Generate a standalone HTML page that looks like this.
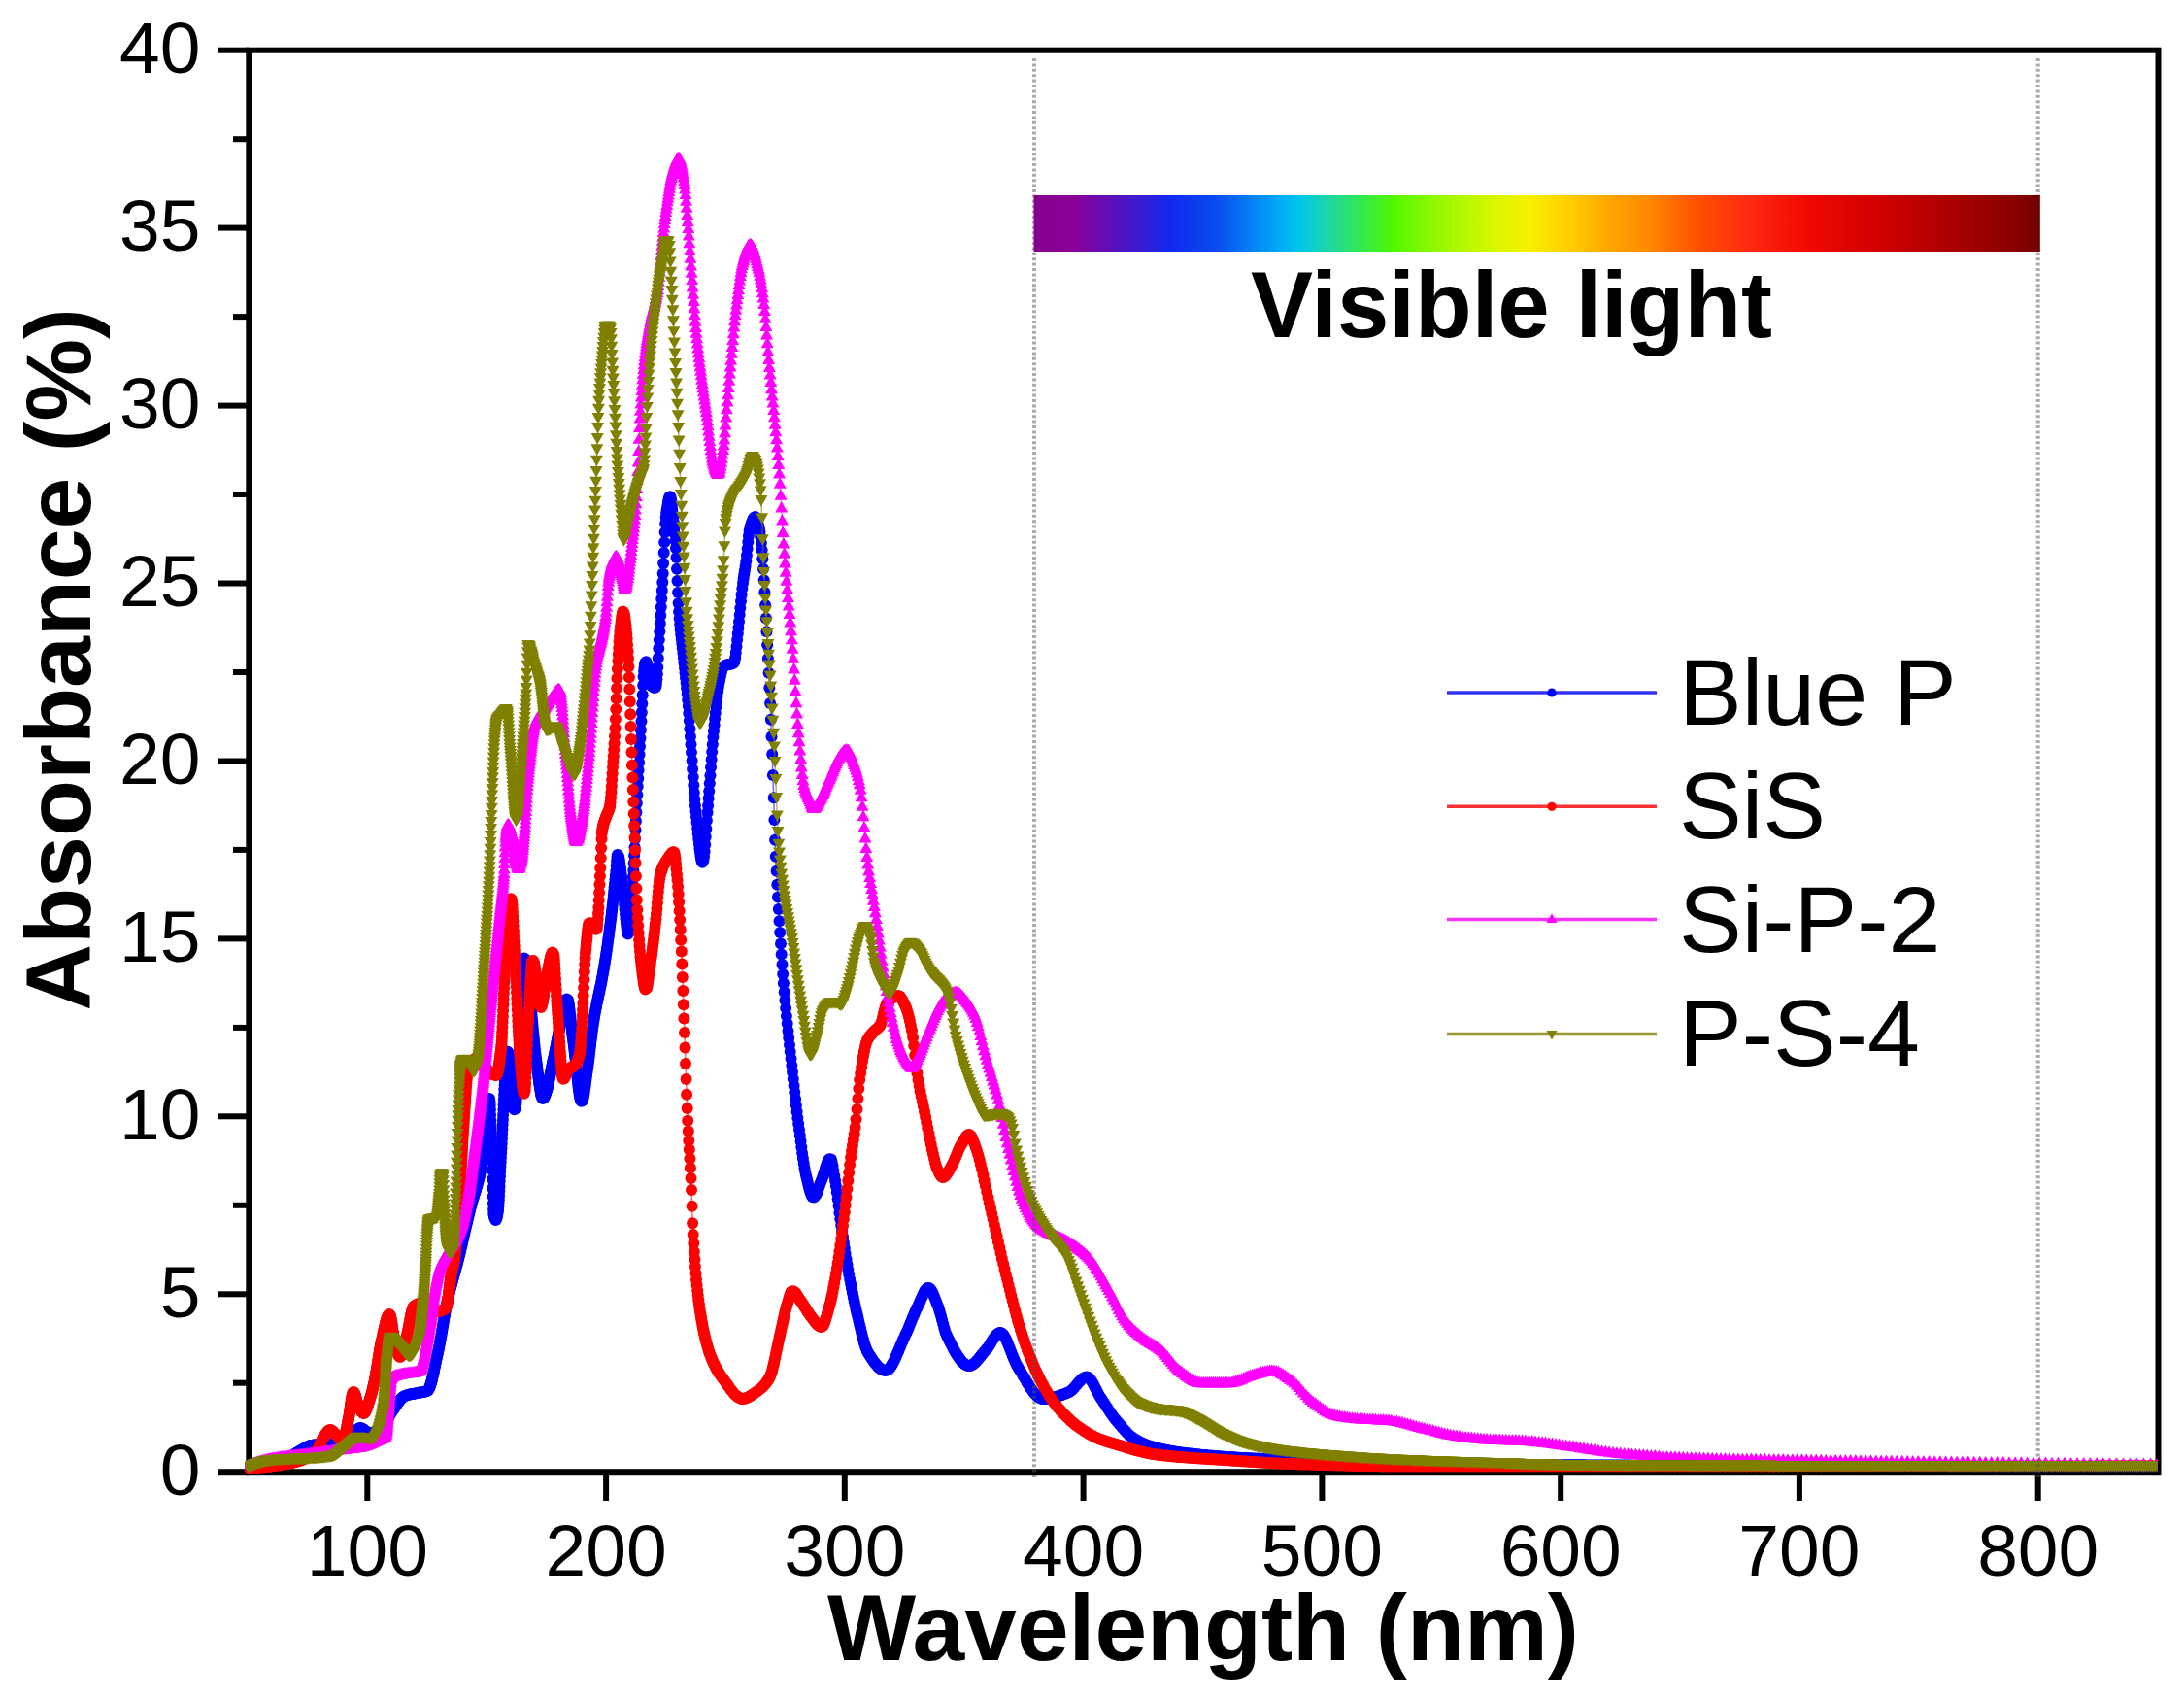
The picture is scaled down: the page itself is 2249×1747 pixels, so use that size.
<!DOCTYPE html>
<html lang="en"><head><meta charset="utf-8"><title>Absorbance spectra</title>
<style>html,body{margin:0;padding:0;background:#fff}body{width:2249px;height:1747px;overflow:hidden}svg{display:block}text{font-family:"Liberation Sans",Arial,Helvetica,sans-serif;fill:#000}.tk{font-size:75px}.b{font-weight:bold;font-size:96px}.lg{font-size:97px}</style></head><body>
<svg width="2249" height="1747" viewBox="0 0 2249 1747">
<defs>
<linearGradient id="spec" x1="0" y1="0" x2="1" y2="0">
<stop offset="0%" stop-color="#86008c"/>
<stop offset="4%" stop-color="#8a0098"/>
<stop offset="9.7%" stop-color="#4418c8"/>
<stop offset="13.6%" stop-color="#1028f0"/>
<stop offset="18.4%" stop-color="#0850f0"/>
<stop offset="24.2%" stop-color="#00a8f8"/>
<stop offset="26.6%" stop-color="#00c8e8"/>
<stop offset="29.5%" stop-color="#20d8a0"/>
<stop offset="32.4%" stop-color="#30e850"/>
<stop offset="35.7%" stop-color="#50f800"/>
<stop offset="41%" stop-color="#a0f800"/>
<stop offset="45.8%" stop-color="#d8f800"/>
<stop offset="49.2%" stop-color="#f8f000"/>
<stop offset="53%" stop-color="#ffd000"/>
<stop offset="57.9%" stop-color="#ffa000"/>
<stop offset="61.2%" stop-color="#ff8800"/>
<stop offset="66%" stop-color="#ff5000"/>
<stop offset="71.4%" stop-color="#ff2810"/>
<stop offset="77%" stop-color="#f00800"/>
<stop offset="84.4%" stop-color="#d00000"/>
<stop offset="91.6%" stop-color="#a80000"/>
<stop offset="97.8%" stop-color="#880000"/>
<stop offset="100%" stop-color="#700000"/>
</linearGradient>
<marker id="m0" markerUnits="userSpaceOnUse" markerWidth="14" markerHeight="14" refX="7" refY="7"><circle cx="7" cy="7" r="6.0" fill="#0000ff"/></marker>
<marker id="m1" markerUnits="userSpaceOnUse" markerWidth="14" markerHeight="14" refX="7" refY="7"><circle cx="7" cy="7" r="6.0" fill="#ff0000"/></marker>
<marker id="m2" markerUnits="userSpaceOnUse" markerWidth="16" markerHeight="16" refX="8" refY="8"><path d="M8 1.7 L14.5 13.2 L1.5 13.2 Z" fill="#ff00ff"/></marker>
<marker id="m3" markerUnits="userSpaceOnUse" markerWidth="16" markerHeight="16" refX="8" refY="8"><path d="M8 14.3 L14.5 2.8 L1.5 2.8 Z" fill="#808000"/></marker>
<clipPath id="cp"><rect x="252.4" y="40" width="1969.2" height="1478.4"/></clipPath>
</defs>
<rect width="2249" height="1747" fill="#fff"/>
<g stroke="#000" stroke-width="6" fill="none" stroke-linecap="butt">
<rect x="256.3" y="51.7" width="1966.2" height="1463.5"/>
<line x1="225" y1="1515.2" x2="256" y2="1515.2"/>
<line x1="240" y1="1423.7" x2="256" y2="1423.7"/>
<line x1="225" y1="1332.3" x2="256" y2="1332.3"/>
<line x1="240" y1="1240.8" x2="256" y2="1240.8"/>
<line x1="225" y1="1149.3" x2="256" y2="1149.3"/>
<line x1="240" y1="1057.9" x2="256" y2="1057.9"/>
<line x1="225" y1="966.4" x2="256" y2="966.4"/>
<line x1="240" y1="874.9" x2="256" y2="874.9"/>
<line x1="225" y1="783.5" x2="256" y2="783.5"/>
<line x1="240" y1="692.0" x2="256" y2="692.0"/>
<line x1="225" y1="600.5" x2="256" y2="600.5"/>
<line x1="240" y1="509.0" x2="256" y2="509.0"/>
<line x1="225" y1="417.6" x2="256" y2="417.6"/>
<line x1="240" y1="326.1" x2="256" y2="326.1"/>
<line x1="225" y1="234.6" x2="256" y2="234.6"/>
<line x1="240" y1="143.2" x2="256" y2="143.2"/>
<line x1="225" y1="51.7" x2="256" y2="51.7"/>
<line x1="378.3" y1="1515.2" x2="378.3" y2="1545"/>
<line x1="624.1" y1="1515.2" x2="624.1" y2="1545"/>
<line x1="869.8" y1="1515.2" x2="869.8" y2="1545"/>
<line x1="1115.6" y1="1515.2" x2="1115.6" y2="1545"/>
<line x1="1361.4" y1="1515.2" x2="1361.4" y2="1545"/>
<line x1="1607.2" y1="1515.2" x2="1607.2" y2="1545"/>
<line x1="1852.9" y1="1515.2" x2="1852.9" y2="1545"/>
<line x1="2098.7" y1="1515.2" x2="2098.7" y2="1545"/>
</g>
<g class="tk" text-anchor="end">
<text x="206.5" y="1538.7">0</text>
<text x="206.5" y="1355.8">5</text>
<text x="206.5" y="1172.8">10</text>
<text x="206.5" y="989.9">15</text>
<text x="206.5" y="807.0">20</text>
<text x="206.5" y="624.0">25</text>
<text x="206.5" y="441.1">30</text>
<text x="206.5" y="258.1">35</text>
<text x="206.5" y="75.2">40</text>
</g>
<g class="tk" text-anchor="middle">
<text x="378.3" y="1622">100</text>
<text x="624.1" y="1622">200</text>
<text x="869.8" y="1622">300</text>
<text x="1115.6" y="1622">400</text>
<text x="1361.4" y="1622">500</text>
<text x="1607.2" y="1622">600</text>
<text x="1852.9" y="1622">700</text>
<text x="2098.7" y="1622">800</text>
</g>
<text class="b" text-anchor="middle" style="font-size:96.5px" x="1239" y="1709">Wavelength (nm)</text>
<text class="b" text-anchor="middle" style="font-size:95px" transform="translate(93 679) rotate(-90)">Absorbance (%)</text>
<g clip-path="url(#cp)" fill="none" stroke-width="1.6" stroke-opacity="0.55" stroke-linejoin="round">
<polyline stroke="#0000ff" marker-start="url(#m0)" marker-mid="url(#m0)" marker-end="url(#m0)" points="256.0,1511.0 257.1,1511.0 258.2,1511.0 259.3,1510.9 260.4,1510.8 261.6,1510.7 262.7,1510.6 263.8,1510.5 264.9,1510.4 266.0,1510.2 267.1,1510.0 268.2,1509.8 269.3,1509.6 270.3,1509.4 271.4,1509.2 272.5,1508.9 273.6,1508.7 274.7,1508.4 275.8,1508.1 276.9,1507.9 277.9,1507.6 279.0,1507.3 280.1,1507.0 281.2,1506.7 282.2,1506.4 283.3,1506.1 284.4,1505.7 285.5,1505.4 286.5,1505.1 287.6,1504.7 288.7,1504.4 289.8,1504.1 290.8,1503.7 291.8,1503.3 292.9,1502.9 293.9,1502.4 294.9,1501.9 295.9,1501.4 296.9,1500.9 297.9,1500.3 298.8,1499.8 299.8,1499.2 300.7,1498.6 301.7,1498.0 302.6,1497.4 303.6,1496.8 304.5,1496.2 305.5,1495.6 306.5,1495.0 307.4,1494.4 308.4,1493.9 309.4,1493.3 310.3,1492.8 311.3,1492.3 312.3,1491.7 313.2,1491.1 314.2,1490.5 315.2,1489.9 316.2,1489.4 317.2,1488.9 318.3,1488.5 319.3,1488.1 320.4,1487.9 321.5,1487.8 322.7,1487.6 323.8,1487.5 324.9,1487.4 326.0,1487.3 327.2,1487.2 328.3,1487.1 329.4,1487.0 330.6,1487.0 331.7,1486.9 332.8,1486.8 333.9,1486.8 335.0,1486.7 336.2,1486.7 337.4,1486.7 338.5,1486.6 339.6,1486.6 340.7,1486.5 341.9,1486.5 343.0,1486.5 344.2,1486.4 345.3,1486.4 346.4,1486.3 347.5,1486.2 348.7,1486.1 349.8,1486.0 350.9,1485.8 352.0,1485.4 353.1,1484.9 354.0,1484.2 354.9,1483.5 355.8,1482.8 356.6,1482.0 357.5,1481.2 358.3,1480.4 359.1,1479.5 360.0,1478.6 360.8,1477.7 361.7,1476.9 362.6,1476.1 363.4,1475.3 364.3,1474.5 365.2,1473.9 366.1,1473.1 367.0,1472.3 367.9,1471.6 368.8,1470.9 369.8,1470.3 370.9,1470.0 372.0,1470.2 373.1,1470.7 374.0,1471.3 375.0,1472.1 375.9,1472.8 376.7,1473.5 377.7,1474.2 378.7,1474.7 379.8,1475.0 380.9,1475.0 382.0,1474.9 383.2,1474.7 384.3,1474.5 385.5,1474.2 386.5,1473.9 387.6,1473.5 388.7,1473.1 389.7,1472.7 390.8,1472.1 391.8,1471.6 392.8,1471.1 393.7,1470.4 394.5,1469.5 395.2,1468.5 395.7,1467.5 396.3,1466.4 396.9,1465.2 397.4,1464.0 398.0,1462.8 398.6,1461.6 399.2,1460.5 399.8,1459.4 400.4,1458.4 400.9,1457.4 401.5,1456.4 402.1,1455.4 402.7,1454.5 403.3,1453.5 403.9,1452.6 404.7,1451.5 405.4,1450.5 406.1,1449.4 406.9,1448.3 407.6,1447.3 408.4,1446.2 409.1,1445.1 409.9,1444.1 410.6,1443.0 411.4,1442.0 412.2,1441.1 412.9,1440.2 413.7,1439.4 414.6,1438.5 415.5,1437.8 416.6,1437.2 417.6,1436.8 418.7,1436.4 419.8,1436.1 420.9,1435.8 422.0,1435.5 423.1,1435.3 424.2,1435.1 425.3,1434.9 426.4,1434.7 427.6,1434.5 428.7,1434.3 429.9,1434.0 431.1,1433.8 432.2,1433.6 433.4,1433.4 434.6,1433.3 435.8,1433.1 437.0,1432.8 438.2,1432.6 439.3,1432.2 440.4,1431.8 441.2,1430.9 441.8,1429.7 442.3,1428.7 442.8,1427.4 443.2,1426.0 443.7,1424.5 444.0,1423.3 444.3,1422.2 444.7,1420.9 445.0,1419.7 445.3,1418.3 445.6,1417.0 445.9,1415.6 446.3,1414.1 446.6,1412.7 446.9,1411.2 447.2,1409.6 447.6,1408.1 447.9,1406.5 448.2,1405.0 448.5,1403.4 448.9,1401.8 449.2,1400.3 449.5,1398.7 449.9,1397.2 450.2,1395.6 450.5,1394.1 450.9,1392.7 451.2,1391.2 451.5,1389.7 451.9,1388.1 452.2,1386.4 452.5,1384.7 452.9,1383.0 453.2,1381.2 453.5,1379.3 453.9,1377.5 454.2,1375.6 454.6,1373.6 454.9,1371.6 455.2,1369.7 455.6,1367.7 455.9,1365.6 456.3,1363.6 456.6,1361.6 457.0,1359.6 457.3,1357.6 457.6,1355.6 458.0,1353.6 458.3,1351.6 458.7,1349.7 459.0,1347.8 459.4,1345.9 459.7,1344.1 460.1,1342.3 460.4,1340.6 460.8,1338.9 461.1,1337.3 461.5,1335.8 461.9,1334.2 462.2,1332.7 462.6,1331.3 462.9,1329.8 463.3,1328.4 463.6,1326.9 464.0,1325.5 464.4,1324.2 464.7,1322.8 465.1,1321.4 465.5,1320.1 465.8,1318.8 466.2,1317.4 466.6,1316.1 466.9,1314.8 467.3,1313.5 467.7,1312.1 468.0,1310.8 468.4,1309.5 468.8,1308.2 469.1,1306.8 469.5,1305.5 469.9,1304.1 470.3,1302.7 470.6,1301.3 471.0,1299.9 471.4,1298.4 471.8,1297.0 472.1,1295.5 472.5,1293.9 472.9,1292.4 473.3,1290.9 473.7,1289.3 474.0,1287.7 474.4,1286.1 474.8,1284.5 475.2,1282.8 475.6,1281.2 476.0,1279.5 476.3,1277.9 476.7,1276.2 477.1,1274.5 477.5,1272.8 477.9,1271.1 478.3,1269.5 478.7,1267.8 479.1,1266.1 479.5,1264.4 479.9,1262.7 480.3,1261.0 480.7,1259.3 481.1,1257.6 481.5,1255.9 481.9,1254.2 482.3,1252.6 482.7,1250.9 483.1,1249.3 483.5,1247.7 483.9,1246.1 484.3,1244.5 484.7,1242.9 485.1,1241.3 485.5,1239.8 485.9,1238.3 486.3,1236.8 486.7,1235.4 487.2,1234.0 487.6,1232.7 488.0,1231.4 488.4,1230.1 488.8,1228.8 489.2,1227.5 489.6,1226.2 490.1,1224.8 490.5,1223.4 490.9,1222.0 491.3,1220.5 491.7,1219.0 492.2,1217.3 492.6,1215.7 493.0,1214.0 493.5,1212.3 493.9,1210.5 494.3,1208.7 494.7,1206.8 495.2,1204.8 495.6,1202.7 495.8,1201.6 496.0,1200.5 496.3,1199.3 496.5,1198.1 496.7,1196.9 496.9,1195.6 497.1,1194.2 497.3,1192.8 497.6,1191.2 497.8,1189.6 498.0,1187.9 498.2,1186.0 498.4,1184.2 498.7,1182.2 498.9,1180.2 499.1,1178.2 499.3,1176.1 499.5,1174.0 499.8,1171.8 500.0,1169.7 500.2,1167.6 500.4,1165.4 500.6,1163.3 500.9,1161.2 501.1,1159.1 501.3,1156.8 501.5,1154.2 501.8,1151.5 502.0,1148.6 502.2,1145.7 502.4,1142.9 502.7,1140.2 502.9,1137.7 503.1,1135.5 503.3,1133.6 503.6,1132.2 504.0,1131.0 504.5,1134.3 504.7,1138.0 504.9,1142.6 505.1,1148.0 505.4,1153.8 505.6,1159.8 505.8,1165.8 506.1,1171.5 506.3,1178.2 506.5,1186.2 506.7,1195.1 507.0,1204.6 507.2,1214.1 507.4,1223.3 507.7,1231.8 507.9,1239.1 508.1,1245.0 508.4,1248.8 508.6,1250.5 508.8,1251.6 509.3,1253.6 509.8,1255.1 510.5,1256.0 511.2,1255.0 511.6,1253.2 511.9,1252.1 512.1,1250.8 512.3,1249.4 512.6,1247.9 512.8,1246.3 513.1,1244.6 513.3,1242.3 513.5,1239.1 513.8,1235.3 514.0,1231.0 514.2,1226.3 514.5,1221.3 514.7,1216.1 515.0,1210.9 515.2,1205.9 515.4,1201.0 515.7,1196.4 515.9,1191.8 516.2,1187.0 516.4,1182.2 516.7,1177.3 516.9,1172.4 517.1,1167.5 517.4,1162.5 517.6,1157.6 517.9,1152.7 518.1,1147.8 518.4,1142.6 518.6,1137.3 518.8,1131.9 519.1,1126.7 519.3,1121.6 519.6,1116.9 519.8,1112.7 520.1,1109.0 520.3,1105.4 520.6,1101.7 520.8,1098.1 521.1,1094.6 521.3,1091.3 521.6,1088.4 521.8,1085.9 522.1,1083.9 522.3,1082.6 523.3,1083.2 523.8,1085.2 524.1,1086.6 524.3,1088.0 524.6,1089.7 524.8,1091.4 525.1,1093.2 525.3,1095.0 525.6,1096.9 525.8,1098.7 526.1,1100.6 526.3,1102.8 526.6,1105.5 526.8,1108.6 527.1,1112.0 527.4,1115.6 527.6,1119.3 527.9,1123.0 528.1,1126.7 528.4,1130.3 528.6,1133.5 528.9,1136.5 529.1,1139.0 529.4,1141.0 529.7,1142.3 530.7,1141.0 531.0,1139.3 531.2,1137.3 531.5,1134.8 531.7,1132.0 532.0,1128.9 532.3,1125.5 532.5,1121.9 532.8,1118.2 533.1,1114.3 533.3,1110.3 533.6,1106.3 533.9,1102.3 534.1,1098.2 534.4,1093.3 534.6,1087.7 534.9,1081.4 535.2,1074.7 535.4,1067.7 535.7,1060.6 536.0,1053.5 536.2,1046.6 536.5,1040.2 536.8,1034.3 537.0,1029.2 537.3,1024.1 537.6,1018.8 537.9,1013.5 538.1,1008.2 538.4,1003.1 538.7,998.5 538.9,994.3 539.2,990.8 539.5,988.2 539.7,986.5 540.8,987.6 541.1,988.8 541.4,990.2 541.7,991.8 541.9,993.7 542.2,995.7 542.5,997.9 542.8,1000.2 543.0,1002.6 543.3,1005.1 543.6,1007.6 543.9,1010.2 544.1,1012.7 544.4,1015.2 544.7,1017.6 545.0,1019.9 545.3,1022.2 545.5,1024.6 545.8,1027.2 546.1,1029.9 546.4,1032.7 546.7,1035.5 546.9,1038.5 547.2,1041.5 547.5,1044.6 547.8,1047.7 548.1,1050.8 548.4,1054.0 548.6,1057.2 548.9,1060.3 549.2,1063.5 549.5,1066.6 549.8,1069.6 550.1,1072.6 550.4,1075.5 550.6,1078.3 550.9,1081.0 551.2,1083.6 551.5,1086.1 551.8,1088.4 552.1,1090.6 552.4,1092.8 552.7,1095.0 553.0,1097.3 553.2,1099.6 553.5,1101.9 553.8,1104.3 554.1,1106.6 554.4,1108.9 554.7,1111.1 555.0,1113.3 555.3,1115.4 555.6,1117.5 555.9,1119.5 556.2,1121.3 556.5,1123.1 556.8,1124.7 557.1,1126.1 557.3,1127.4 557.6,1128.5 558.2,1130.2 559.1,1131.0 560.3,1130.0 560.9,1128.9 561.5,1127.4 562.1,1125.7 562.7,1123.6 563.0,1122.5 563.4,1121.3 563.7,1120.1 564.0,1118.8 564.3,1117.5 564.6,1116.1 564.9,1114.7 565.2,1113.2 565.5,1111.8 565.8,1110.3 566.1,1108.8 566.4,1107.2 566.7,1105.7 567.0,1104.1 567.3,1102.6 567.7,1101.0 568.0,1099.5 568.3,1098.0 568.6,1096.5 568.9,1095.0 569.2,1093.5 569.5,1092.1 569.8,1090.7 570.2,1089.3 570.5,1087.9 570.8,1086.5 571.1,1085.0 571.4,1083.4 571.7,1081.8 572.1,1080.2 572.4,1078.6 572.7,1076.9 573.0,1075.2 573.3,1073.5 573.6,1071.8 574.0,1070.1 574.3,1068.4 574.6,1066.7 574.9,1065.0 575.2,1063.3 575.6,1061.6 575.9,1059.9 576.2,1058.3 576.5,1056.7 576.9,1055.1 577.2,1053.6 577.5,1052.1 577.8,1050.7 578.2,1049.3 578.5,1047.9 578.8,1046.4 579.1,1044.8 579.5,1043.2 579.8,1041.6 580.1,1040.0 580.4,1038.4 580.8,1036.9 581.1,1035.4 581.4,1034.0 581.8,1032.7 582.1,1031.5 582.8,1029.6 583.4,1028.4 584.8,1029.3 585.1,1030.6 585.4,1032.2 585.8,1034.3 586.1,1036.6 586.5,1039.1 586.8,1041.9 587.1,1044.9 587.5,1047.9 587.8,1051.1 588.1,1054.2 588.5,1057.4 588.8,1060.5 589.2,1063.5 589.5,1066.3 589.9,1069.0 590.2,1071.5 590.5,1074.1 590.9,1076.9 591.2,1079.8 591.6,1082.8 591.9,1085.9 592.3,1089.1 592.6,1092.4 593.0,1095.7 593.3,1099.0 593.7,1102.3 594.0,1105.5 594.4,1108.7 594.7,1111.8 595.1,1114.8 595.4,1117.7 595.8,1120.4 596.1,1122.9 596.5,1125.3 596.8,1127.4 597.2,1129.3 597.5,1130.9 597.9,1132.2 598.6,1133.8 599.7,1133.3 600.4,1131.0 600.7,1129.4 601.1,1127.5 601.5,1125.4 601.8,1123.1 602.2,1120.6 602.6,1118.0 602.9,1115.3 603.3,1112.5 603.6,1109.8 604.0,1107.0 604.4,1104.3 604.7,1101.8 605.1,1099.3 605.5,1096.8 605.8,1094.1 606.2,1091.2 606.6,1088.3 606.9,1085.3 607.3,1082.2 607.7,1079.0 608.1,1075.9 608.4,1072.7 608.8,1069.6 609.2,1066.5 609.5,1063.5 609.9,1060.6 610.3,1057.8 610.7,1055.2 611.0,1052.7 611.4,1050.4 611.8,1048.1 612.2,1045.9 612.5,1043.8 612.9,1041.7 613.3,1039.7 613.7,1037.7 614.1,1035.8 614.4,1033.9 614.8,1032.0 615.2,1030.2 615.6,1028.4 616.0,1026.6 616.4,1024.8 616.7,1023.0 617.1,1021.2 617.5,1019.4 617.9,1017.6 618.3,1015.7 618.7,1013.9 619.1,1012.0 619.5,1010.0 619.8,1008.1 620.2,1006.0 620.6,1003.9 621.0,1001.8 621.4,999.5 621.8,997.2 622.2,994.8 622.6,992.4 623.0,989.9 623.4,987.3 623.8,984.7 624.2,982.1 624.6,979.4 625.0,976.7 625.4,973.9 625.8,971.0 626.2,968.1 626.6,965.2 627.0,962.2 627.4,959.1 627.8,956.0 628.2,952.9 628.6,949.7 629.0,946.5 629.4,943.2 629.8,939.8 630.2,936.4 630.6,932.9 631.0,929.2 631.4,925.4 631.8,921.5 632.2,917.5 632.6,913.5 633.0,909.4 633.5,905.3 633.9,901.3 634.3,896.9 634.7,891.5 635.1,886.2 635.5,882.0 635.9,880.0 636.8,881.2 637.2,882.8 637.6,884.8 638.0,887.4 638.4,890.2 638.9,893.3 639.3,896.6 639.7,900.0 640.1,903.4 640.6,906.7 641.0,909.9 641.4,913.2 641.8,917.0 642.3,921.4 642.7,926.1 643.1,931.0 643.5,936.0 644.0,940.9 644.4,945.6 644.8,950.0 645.3,953.9 645.7,957.2 646.1,959.8 646.6,961.4 647.9,959.0 648.3,955.4 648.7,950.8 649.2,945.2 649.6,938.8 650.0,932.0 650.5,924.7 650.9,917.3 651.4,910.0 651.8,902.9 652.3,896.1 652.7,888.7 653.1,880.7 653.6,872.3 654.0,863.5 654.5,854.5 654.9,845.3 655.4,836.2 655.8,827.1 656.3,818.2 656.7,809.6 657.2,801.3 657.6,793.1 658.1,785.0 658.5,776.8 659.0,768.6 659.4,760.1 659.9,751.4 660.4,742.4 660.8,733.4 661.3,724.4 661.7,715.4 662.2,705.4 662.6,696.5 663.1,691.0 663.6,687.3 664.0,684.1 664.5,681.9 665.4,681.3 666.4,683.7 666.8,685.4 667.3,687.3 667.8,689.2 668.2,690.9 668.7,693.0 669.2,695.5 669.7,698.1 670.1,700.6 670.6,703.0 671.1,705.0 671.6,706.4 672.5,707.3 674.0,707.9 675.4,707.1 675.9,703.9 676.4,699.2 676.9,693.7 677.3,687.1 677.8,677.6 678.3,667.6 678.8,658.8 679.3,650.3 679.8,641.8 680.3,633.4 680.8,625.1 681.3,616.6 681.8,608.1 682.3,599.4 682.7,590.4 683.2,580.1 683.7,569.1 684.2,558.2 684.7,547.9 685.2,539.1 685.7,532.4 686.2,528.1 686.7,524.5 687.3,521.0 687.8,518.0 688.3,515.4 688.8,513.3 689.3,511.8 690.3,511.3 690.8,513.1 691.3,516.2 691.8,520.1 692.3,524.5 692.9,528.9 693.4,533.2 693.9,538.1 694.4,543.7 694.9,549.8 695.5,556.5 696.0,564.2 696.5,574.1 697.0,585.7 697.5,597.9 698.1,610.0 698.6,620.9 699.1,629.8 699.6,636.7 700.2,642.7 700.7,648.2 701.2,653.2 701.8,658.0 702.3,662.6 702.8,667.2 703.4,671.9 703.9,677.0 704.4,682.3 705.0,687.5 705.5,692.6 706.0,697.8 706.6,703.1 707.1,708.6 707.7,714.3 708.2,720.4 708.8,726.9 709.3,734.2 709.8,742.1 710.4,750.2 710.9,758.2 711.5,766.2 712.0,774.5 712.6,783.1 713.1,791.7 713.7,800.1 714.3,808.3 714.8,816.0 715.4,823.0 715.9,829.2 716.5,834.9 717.0,840.8 717.6,846.6 718.2,852.5 718.7,858.2 719.3,863.6 719.9,868.8 720.4,873.5 721.0,877.8 721.6,881.4 722.1,884.3 722.7,886.5 723.3,887.7 724.4,886.1 725.0,882.1 725.6,876.4 726.2,869.5 726.7,861.6 727.3,853.2 727.9,844.8 728.5,836.6 729.1,829.3 729.6,822.1 730.2,814.4 730.8,806.4 731.4,798.2 732.0,790.0 732.6,781.9 733.2,773.9 733.8,766.2 734.4,759.1 735.0,752.5 735.6,746.3 736.1,740.1 736.7,734.0 737.3,728.0 737.9,722.3 738.5,716.9 739.2,712.0 739.8,707.4 740.4,703.5 741.0,700.2 741.6,697.2 742.2,694.4 742.8,691.8 743.4,689.5 744.0,687.7 744.6,686.4 745.9,685.4 747.1,684.8 748.3,684.5 749.6,684.2 750.8,684.0 752.1,683.8 753.4,683.5 754.6,682.9 755.9,682.1 756.5,680.6 757.2,677.0 757.8,671.7 758.5,665.4 759.1,658.7 759.8,652.3 760.4,646.3 761.0,639.9 761.7,633.1 762.3,626.1 763.0,619.1 763.6,612.3 764.3,606.0 765.0,600.3 765.6,595.5 766.3,591.3 766.9,587.2 767.6,582.9 768.3,578.0 768.9,571.8 769.6,564.9 770.3,558.0 770.9,551.8 771.6,547.0 772.3,544.0 772.9,541.7 773.6,539.5 774.3,537.4 775.0,535.7 775.6,534.2 776.3,533.1 777.7,532.0 779.0,533.6 779.7,535.5 780.4,538.0 781.1,540.9 781.8,544.1 782.5,547.7 783.2,552.7 783.9,558.9 784.6,566.2 785.3,575.3 786.0,585.7 786.7,597.3 787.4,609.8 788.1,623.0 788.8,636.6 789.5,650.3 790.2,664.0 790.9,678.0 791.6,692.7 792.3,708.0 793.1,724.0 793.8,740.7 794.5,758.2 795.2,776.6 795.9,798.0 796.7,821.2 797.4,844.1 798.1,864.8 798.8,881.7 799.6,896.8 800.3,910.7 801.0,923.6 801.8,936.0 802.5,948.2 803.2,960.0 804.0,971.4 804.7,982.4 805.5,992.9 806.2,1002.9 806.9,1012.3 807.7,1021.2 808.4,1029.8 809.2,1038.0 809.9,1046.0 810.7,1053.7 811.5,1061.2 812.2,1068.5 813.0,1075.7 813.7,1082.8 814.5,1089.8 815.3,1096.7 816.0,1103.7 816.8,1110.7 817.6,1117.7 818.3,1124.6 819.1,1131.4 819.9,1138.0 820.6,1144.5 821.4,1150.9 822.2,1157.0 823.0,1163.0 823.8,1169.0 824.6,1175.1 825.3,1181.1 826.1,1187.0 826.9,1192.6 827.7,1197.8 828.5,1202.6 829.3,1206.8 830.1,1210.4 830.9,1213.7 831.7,1217.1 832.5,1220.3 833.3,1223.4 834.1,1226.2 834.9,1228.6 835.7,1230.6 836.5,1231.9 838.2,1232.6 839.8,1230.8 840.6,1229.2 841.5,1227.2 842.3,1225.1 843.1,1222.8 843.9,1220.4 844.8,1218.1 845.6,1215.9 846.4,1213.9 847.3,1211.6 848.1,1209.0 849.0,1206.3 849.8,1203.5 850.6,1200.8 851.5,1198.3 852.3,1196.1 853.2,1194.4 854.0,1193.2 855.8,1193.5 856.6,1196.2 857.5,1200.3 858.3,1205.2 859.2,1210.4 860.1,1215.4 860.9,1220.9 861.8,1227.2 862.7,1234.2 863.6,1241.3 864.4,1248.4 865.3,1255.0 866.2,1261.2 867.1,1267.2 868.0,1273.2 868.9,1279.2 869.8,1285.0 870.6,1290.7 871.5,1296.2 872.4,1301.6 873.3,1306.9 874.2,1311.9 875.1,1316.9 876.1,1321.7 877.0,1326.4 877.9,1331.0 878.8,1335.5 879.7,1339.9 880.6,1344.1 881.5,1348.2 882.5,1352.2 883.4,1356.0 884.3,1359.9 885.2,1363.9 886.2,1367.8 887.1,1371.7 888.0,1375.5 889.0,1379.0 889.9,1382.4 890.9,1385.4 891.8,1388.1 892.7,1390.4 893.7,1392.2 894.6,1393.7 895.6,1395.3 896.6,1396.8 897.5,1398.3 898.5,1399.7 899.4,1401.1 900.4,1402.4 901.4,1403.7 902.3,1404.8 903.3,1405.9 904.3,1406.9 905.3,1407.9 906.3,1408.7 907.2,1409.4 908.2,1410.0 910.2,1410.8 912.2,1411.0 914.2,1410.2 915.2,1409.4 916.2,1408.3 917.2,1407.0 918.2,1405.4 919.2,1403.7 920.3,1401.8 921.3,1399.7 922.3,1397.5 923.3,1395.1 924.3,1392.7 925.4,1390.3 926.4,1387.8 927.4,1385.3 928.5,1382.8 929.5,1380.4 930.6,1378.0 931.6,1375.8 932.7,1373.6 933.7,1371.3 934.8,1368.9 935.8,1366.4 936.9,1363.8 937.9,1361.2 939.0,1358.6 940.1,1356.0 941.2,1353.4 942.2,1350.9 943.3,1348.5 944.4,1346.2 945.5,1344.1 946.6,1341.7 947.6,1339.2 948.7,1336.7 949.8,1334.2 950.9,1331.9 952.0,1329.8 953.1,1328.1 954.2,1326.8 955.3,1326.1 956.5,1326.1 957.6,1326.8 958.7,1328.1 959.8,1330.0 960.9,1332.3 962.1,1335.0 963.2,1337.8 964.3,1340.8 965.5,1343.7 966.6,1346.6 967.7,1350.2 968.9,1354.3 970.0,1358.7 971.2,1363.1 972.4,1367.4 973.5,1371.2 974.7,1374.3 975.8,1376.7 977.0,1379.1 978.2,1381.4 979.4,1383.8 980.5,1386.0 981.7,1388.3 982.9,1390.4 984.1,1392.5 985.3,1394.5 986.5,1396.3 987.7,1398.1 988.9,1399.7 990.1,1401.2 991.3,1402.5 992.5,1403.6 993.7,1404.5 994.9,1405.2 996.1,1405.7 997.4,1406.0 998.6,1406.0 999.8,1405.7 1001.1,1405.1 1002.3,1404.3 1003.6,1403.3 1004.8,1402.1 1006.1,1400.8 1007.3,1399.3 1008.6,1397.8 1009.8,1396.2 1011.1,1394.6 1012.4,1393.0 1013.6,1391.5 1014.9,1390.1 1016.2,1388.6 1017.5,1386.9 1018.8,1385.0 1020.0,1382.9 1021.3,1380.8 1022.6,1378.8 1023.9,1376.9 1025.2,1375.2 1026.6,1373.8 1027.9,1372.7 1029.2,1372.1 1030.5,1372.1 1031.8,1372.7 1033.2,1374.1 1034.5,1376.1 1035.8,1378.6 1037.2,1381.6 1038.5,1384.8 1039.9,1388.2 1041.2,1391.7 1042.6,1395.2 1043.9,1398.6 1045.3,1401.8 1046.7,1404.7 1048.0,1407.1 1049.4,1409.2 1050.8,1411.5 1052.2,1413.9 1053.6,1416.2 1055.0,1418.6 1056.4,1421.0 1057.8,1423.4 1059.2,1425.7 1060.6,1427.9 1062.0,1430.0 1063.4,1432.0 1064.8,1433.9 1066.3,1435.5 1067.7,1436.9 1069.1,1438.1 1070.6,1439.0 1072.0,1439.7 1073.5,1440.0 1074.9,1440.0 1076.4,1439.9 1077.9,1439.8 1079.3,1439.6 1080.8,1439.4 1082.3,1439.2 1083.8,1438.8 1085.2,1438.5 1086.7,1438.1 1088.2,1437.7 1089.7,1437.2 1091.2,1436.7 1092.7,1436.2 1094.3,1435.7 1095.8,1435.1 1097.3,1434.6 1098.8,1434.0 1100.4,1433.3 1101.9,1432.4 1103.5,1431.2 1105.0,1429.7 1106.6,1428.0 1108.1,1426.2 1109.7,1424.3 1111.2,1422.6 1112.8,1420.9 1114.4,1419.5 1116.0,1418.4 1117.6,1417.7 1119.2,1417.5 1120.8,1418.1 1122.4,1419.5 1124.0,1421.7 1125.6,1424.3 1127.2,1427.4 1128.8,1430.6 1130.5,1433.8 1132.1,1436.9 1133.8,1439.6 1135.4,1442.1 1137.1,1444.6 1138.7,1447.1 1140.4,1449.6 1142.0,1452.1 1143.7,1454.6 1145.4,1457.0 1147.1,1459.3 1148.8,1461.5 1150.5,1463.6 1152.2,1465.6 1153.9,1467.6 1155.6,1469.6 1157.3,1471.5 1159.1,1473.4 1160.8,1475.2 1162.5,1476.9 1164.3,1478.4 1166.0,1479.8 1167.8,1481.0 1169.5,1482.1 1171.3,1483.1 1173.1,1484.0 1174.9,1484.9 1176.6,1485.7 1178.4,1486.5 1180.2,1487.2 1182.0,1487.9 1183.8,1488.5 1185.7,1489.1 1187.5,1489.7 1189.3,1490.2 1191.1,1490.7 1193.0,1491.1 1194.8,1491.6 1196.7,1492.0 1198.5,1492.3 1200.4,1492.7 1202.3,1493.1 1204.2,1493.4 1206.1,1493.8 1208.0,1494.1 1209.9,1494.4 1211.8,1494.7 1213.7,1495.0 1215.6,1495.2 1217.5,1495.5 1219.5,1495.7 1221.4,1496.0 1223.4,1496.2 1225.3,1496.4 1227.3,1496.6 1229.2,1496.9 1231.2,1497.1 1233.2,1497.3 1235.2,1497.5 1237.2,1497.7 1239.2,1497.9 1241.2,1498.0 1243.2,1498.2 1245.3,1498.4 1247.3,1498.6 1249.3,1498.8 1251.4,1498.9 1253.4,1499.1 1255.5,1499.3 1257.6,1499.4 1259.7,1499.6 1261.7,1499.7 1263.8,1499.9 1265.9,1500.0 1268.1,1500.1 1270.2,1500.3 1272.3,1500.4 1274.4,1500.5 1276.6,1500.7 1278.7,1500.8 1280.9,1500.9 1283.1,1501.0 1285.2,1501.1 1287.4,1501.2 1289.6,1501.3 1291.8,1501.4 1294.0,1501.5 1296.2,1501.6 1298.5,1501.7 1300.7,1501.8 1302.9,1501.9 1305.2,1502.0 1307.5,1502.1 1309.7,1502.2 1312.0,1502.3 1314.3,1502.4 1316.6,1502.5 1318.9,1502.6 1321.2,1502.7 1323.5,1502.8 1325.9,1502.9 1328.2,1502.9 1330.6,1503.0 1332.9,1503.1 1335.3,1503.2 1337.7,1503.3 1340.0,1503.4 1342.4,1503.4 1344.9,1503.5 1347.3,1503.6 1349.7,1503.7 1352.1,1503.8 1354.6,1503.8 1357.0,1503.9 1359.5,1504.0 1362.0,1504.0 1364.5,1504.1 1366.9,1504.2 1369.5,1504.3 1372.0,1504.3 1374.5,1504.4 1377.0,1504.5 1379.6,1504.5 1382.1,1504.6 1384.7,1504.7 1387.3,1504.7 1389.9,1504.8 1392.5,1504.8 1395.1,1504.9 1397.7,1504.9 1400.3,1505.0 1403.0,1505.1 1405.6,1505.1 1408.3,1505.2 1411.0,1505.2 1413.7,1505.3 1416.4,1505.3 1419.1,1505.4 1421.8,1505.5 1424.5,1505.5 1427.3,1505.6 1430.0,1505.6 1432.8,1505.7 1435.6,1505.7 1438.4,1505.8 1441.2,1505.9 1444.0,1505.9 1446.8,1506.0 1449.6,1506.0 1452.5,1506.1 1455.4,1506.1 1458.2,1506.2 1461.1,1506.2 1464.0,1506.3 1466.9,1506.4 1469.9,1506.4 1472.8,1506.5 1475.8,1506.5 1478.7,1506.6 1481.7,1506.6 1484.7,1506.7 1487.7,1506.7 1490.7,1506.8 1493.8,1506.8 1496.8,1506.9 1499.9,1506.9 1502.9,1507.0 1506.0,1507.0 1509.1,1507.1 1512.3,1507.1 1515.4,1507.2 1518.5,1507.2 1521.7,1507.2 1524.9,1507.3 1528.0,1507.3 1531.2,1507.4 1534.5,1507.4 1537.7,1507.5 1540.9,1507.5 1544.2,1507.5 1547.5,1507.6 1550.8,1507.6 1554.1,1507.6 1557.4,1507.7 1560.7,1507.7 1564.1,1507.7 1567.5,1507.8 1570.9,1507.8 1574.3,1507.8 1577.7,1507.9 1581.1,1507.9 1584.6,1507.9 1588.0,1507.9 1591.5,1508.0 1595.0,1508.0 1598.5,1508.0 1602.1,1508.0 1605.6,1508.0 1609.2,1508.0 1612.8,1508.1 1616.4,1508.1 1620.0,1508.1 1623.6,1508.1 1627.3,1508.1 1631.0,1508.1 1634.7,1508.2 1638.4,1508.2 1642.1,1508.2 1645.9,1508.2 1649.6,1508.2 1653.4,1508.2 1657.2,1508.3 1661.0,1508.3 1664.9,1508.3 1668.7,1508.3 1672.6,1508.3 1676.5,1508.3 1680.4,1508.4 1684.4,1508.4 1688.3,1508.4 1692.3,1508.4 1696.3,1508.4 1700.3,1508.4 1704.4,1508.5 1708.5,1508.5 1712.5,1508.5 1716.6,1508.5 1720.8,1508.5 1724.9,1508.5 1729.1,1508.6 1733.3,1508.6 1737.5,1508.6 1741.7,1508.6 1746.0,1508.6 1750.3,1508.6 1754.6,1508.6 1758.9,1508.7 1763.3,1508.7 1767.6,1508.7 1772.0,1508.7 1776.5,1508.7 1780.9,1508.7 1785.4,1508.8 1789.9,1508.8 1794.4,1508.8 1798.9,1508.8 1803.5,1508.8 1808.1,1508.8 1812.7,1508.8 1817.4,1508.9 1822.0,1508.9 1826.7,1508.9 1831.5,1508.9 1836.2,1508.9 1841.0,1508.9 1845.8,1508.9 1850.6,1509.0 1855.5,1509.0 1860.3,1509.0 1865.3,1509.0 1870.2,1509.0 1875.2,1509.0 1880.2,1509.0 1885.2,1509.1 1890.2,1509.1 1895.3,1509.1 1900.4,1509.1 1905.6,1509.1 1910.8,1509.1 1916.0,1509.1 1921.2,1509.1 1926.5,1509.2 1931.8,1509.2 1937.1,1509.2 1942.4,1509.2 1947.8,1509.2 1953.2,1509.2 1958.7,1509.2 1964.2,1509.2 1969.7,1509.2 1975.3,1509.3 1980.9,1509.3 1986.5,1509.3 1992.1,1509.3 1997.8,1509.3 2003.6,1509.3 2009.3,1509.3 2015.1,1509.3 2020.9,1509.3 2026.8,1509.3 2032.7,1509.4 2038.7,1509.4 2044.6,1509.4 2050.7,1509.4 2056.7,1509.4 2062.8,1509.4 2068.9,1509.4 2075.1,1509.4 2081.3,1509.4 2087.6,1509.4 2093.9,1509.4 2100.2,1509.4 2106.6,1509.4 2113.0,1509.5 2119.4,1509.5 2125.9,1509.5 2132.5,1509.5 2139.1,1509.5 2145.7,1509.5 2152.4,1509.5 2159.1,1509.5 2165.8,1509.5 2172.6,1509.5 2179.5,1509.5 2186.4,1509.5 2193.3,1509.5 2200.3,1509.5 2207.4,1509.5 2214.5,1509.5 2221.6,1509.5"/>
<polyline stroke="#ff0000" marker-start="url(#m1)" marker-mid="url(#m1)" marker-end="url(#m1)" points="256.0,1511.0 257.1,1511.0 258.2,1511.0 259.3,1511.0 260.4,1510.9 261.6,1510.9 262.7,1510.9 263.8,1510.8 264.9,1510.7 266.0,1510.7 267.1,1510.6 268.2,1510.5 269.4,1510.4 270.5,1510.3 271.6,1510.2 272.7,1510.1 273.8,1510.0 274.9,1509.9 276.0,1509.8 277.1,1509.7 278.2,1509.5 279.4,1509.4 280.5,1509.2 281.6,1509.1 282.7,1508.9 283.8,1508.8 284.9,1508.6 286.0,1508.4 287.1,1508.3 288.2,1508.1 289.3,1507.9 290.4,1507.7 291.6,1507.5 292.6,1507.3 293.7,1507.2 294.9,1507.0 295.9,1506.8 297.0,1506.6 298.2,1506.3 299.3,1506.1 300.4,1505.9 301.5,1505.7 302.6,1505.5 303.7,1505.2 304.8,1504.9 305.8,1504.7 306.9,1504.3 308.0,1504.0 309.1,1503.7 310.1,1503.3 311.2,1502.9 312.2,1502.5 313.3,1502.1 314.3,1501.6 315.4,1501.1 316.4,1500.6 317.4,1500.1 318.4,1499.5 319.3,1499.0 320.3,1498.3 321.2,1497.7 322.2,1497.1 323.1,1496.4 324.0,1495.8 324.9,1495.0 325.7,1494.2 326.4,1493.3 327.0,1492.2 327.6,1491.2 328.1,1490.1 328.6,1489.0 329.1,1487.9 329.5,1486.9 330.0,1485.9 330.4,1484.9 331.0,1483.7 331.5,1482.7 332.0,1481.7 332.6,1480.6 333.2,1479.7 333.9,1478.7 334.5,1477.7 335.1,1476.8 335.7,1475.9 336.4,1474.9 337.1,1474.0 337.8,1473.2 338.7,1472.4 339.8,1472.0 340.9,1472.2 341.9,1472.8 342.8,1473.5 343.6,1474.3 344.4,1475.2 345.1,1476.0 345.9,1476.9 346.7,1477.7 347.5,1478.6 348.3,1479.5 349.0,1480.4 349.7,1481.3 350.4,1482.2 351.2,1483.0 352.0,1483.7 353.1,1484.0 353.9,1483.1 354.4,1482.0 354.8,1480.7 355.1,1479.5 355.4,1478.2 355.6,1477.1 355.9,1476.0 356.1,1474.8 356.4,1473.5 356.6,1472.3 356.9,1471.0 357.1,1469.6 357.4,1468.3 357.6,1467.0 357.9,1465.6 358.1,1464.3 358.4,1463.0 358.6,1461.8 358.9,1460.6 359.1,1459.4 359.4,1458.0 359.6,1456.5 359.9,1454.9 360.1,1453.8 360.2,1452.6 360.4,1451.5 360.6,1450.2 360.7,1449.0 360.9,1447.8 361.1,1446.5 361.3,1445.3 361.4,1444.1 361.6,1442.9 361.8,1441.7 361.9,1440.6 362.2,1439.0 362.5,1437.6 362.7,1436.2 363.0,1435.1 363.3,1433.9 364.0,1433.0 364.8,1433.8 365.4,1435.0 365.7,1436.1 366.1,1437.3 366.4,1438.6 366.8,1439.9 367.2,1441.3 367.5,1442.6 367.9,1443.9 368.2,1445.1 368.7,1446.4 369.3,1447.5 369.8,1448.6 370.4,1449.7 370.9,1450.8 371.5,1451.9 372.0,1452.8 372.7,1453.8 373.5,1454.6 374.5,1455.0 375.5,1454.4 376.2,1453.5 376.7,1452.4 377.2,1451.2 377.7,1450.0 378.1,1448.9 378.5,1447.7 378.9,1446.5 379.3,1445.2 379.7,1444.0 380.1,1442.7 380.5,1441.4 380.9,1440.2 381.3,1439.0 381.7,1437.7 382.1,1436.2 382.5,1435.1 382.8,1434.0 383.1,1432.8 383.4,1431.5 383.7,1430.3 384.0,1429.0 384.3,1427.6 384.6,1426.3 384.9,1424.9 385.3,1423.4 385.6,1422.0 385.9,1420.5 386.2,1419.0 386.5,1417.5 386.7,1416.4 386.9,1415.2 387.2,1414.0 387.4,1412.8 387.6,1411.6 387.8,1410.3 388.0,1409.0 388.2,1407.7 388.4,1406.4 388.7,1405.0 388.9,1403.7 389.1,1402.3 389.3,1400.9 389.5,1399.6 389.7,1398.2 389.9,1396.8 390.2,1395.5 390.4,1394.1 390.6,1392.8 390.8,1391.4 391.0,1390.1 391.3,1388.9 391.5,1387.6 391.7,1386.4 391.9,1385.2 392.1,1384.0 392.4,1382.9 392.7,1381.3 393.0,1379.9 393.4,1378.4 393.7,1376.9 394.0,1375.4 394.4,1373.9 394.7,1372.3 395.1,1370.7 395.4,1369.2 395.7,1367.7 396.1,1366.1 396.4,1364.7 396.8,1363.2 397.1,1361.8 397.4,1360.5 397.8,1359.3 398.1,1358.1 398.5,1357.0 399.0,1355.7 399.4,1354.7 400.0,1353.7 400.9,1353.0 401.7,1353.9 402.0,1355.0 402.4,1356.5 402.6,1357.7 402.9,1359.1 403.1,1360.5 403.3,1362.0 403.6,1363.5 403.8,1365.1 404.1,1366.8 404.3,1368.4 404.5,1370.0 404.8,1371.6 405.0,1373.1 405.3,1374.5 405.5,1375.8 405.8,1377.0 406.1,1378.5 406.5,1380.0 406.9,1381.5 407.2,1383.1 407.6,1384.7 408.0,1386.3 408.4,1387.9 408.7,1389.4 409.1,1390.8 409.5,1392.2 409.9,1393.4 410.2,1394.5 410.7,1395.7 411.4,1396.7 412.5,1396.8 413.3,1395.7 413.8,1394.6 414.2,1393.5 414.6,1392.3 415.0,1391.0 415.4,1389.6 415.8,1388.0 416.2,1386.5 416.5,1385.4 416.7,1384.3 417.0,1383.1 417.2,1382.0 417.5,1380.9 417.8,1379.8 418.0,1378.7 418.3,1377.6 418.7,1376.1 419.1,1374.6 419.4,1373.5 419.7,1372.3 419.9,1371.1 420.2,1369.8 420.5,1368.4 420.7,1367.0 421.0,1365.5 421.3,1364.1 421.6,1362.6 421.8,1361.0 422.1,1359.5 422.4,1358.0 422.7,1356.6 422.9,1355.1 423.2,1353.8 423.5,1352.4 423.8,1351.2 424.1,1350.0 424.3,1348.9 424.8,1347.5 425.2,1346.3 425.7,1345.3 426.7,1344.5 427.7,1343.8 428.7,1343.2 429.7,1342.7 430.8,1342.2 431.8,1341.7 432.8,1341.3 434.0,1340.9 435.2,1340.6 436.4,1340.3 437.6,1340.1 438.9,1340.0 440.1,1340.0 441.2,1340.4 442.1,1341.2 442.9,1342.0 443.7,1343.1 444.3,1344.0 445.0,1345.0 445.6,1345.9 446.3,1346.9 447.1,1347.9 447.9,1348.8 448.9,1349.6 450.0,1350.0 451.2,1349.9 452.4,1349.8 453.5,1349.5 454.7,1349.2 455.9,1348.7 457.0,1348.2 458.0,1347.6 459.0,1347.0 459.7,1345.5 460.1,1344.1 460.4,1342.4 460.8,1340.4 461.0,1339.3 461.1,1338.2 461.3,1336.9 461.5,1335.7 461.7,1334.4 461.9,1333.0 462.0,1331.6 462.2,1330.2 462.4,1328.8 462.6,1327.4 462.8,1325.9 462.9,1324.5 463.1,1323.1 463.3,1321.7 463.5,1320.3 463.6,1318.9 463.8,1317.5 464.0,1316.2 464.2,1315.0 464.4,1313.7 464.5,1312.6 464.7,1311.5 465.1,1309.5 465.5,1307.8 465.8,1306.2 466.2,1304.7 466.6,1303.3 466.9,1301.7 467.3,1300.0 467.7,1298.1 468.0,1295.9 468.2,1294.6 468.4,1293.2 468.6,1291.6 468.8,1290.0 468.9,1288.2 469.1,1286.4 469.3,1284.4 469.5,1282.4 469.7,1280.3 469.9,1278.1 470.1,1275.8 470.3,1273.5 470.4,1271.1 470.6,1268.6 470.8,1266.2 471.0,1263.6 471.2,1261.1 471.4,1258.5 471.6,1255.9 471.8,1253.3 471.9,1250.7 472.1,1248.1 472.3,1245.4 472.5,1242.5 472.7,1239.5 472.9,1236.4 473.1,1233.2 473.3,1230.0 473.5,1226.7 473.7,1223.4 473.8,1220.0 474.0,1216.7 474.2,1213.3 474.4,1209.9 474.6,1206.6 474.8,1203.3 475.0,1200.1 475.2,1196.8 475.4,1193.5 475.6,1190.2 475.8,1186.9 476.0,1183.5 476.2,1180.1 476.3,1176.8 476.5,1173.4 476.7,1170.1 476.9,1166.8 477.1,1163.6 477.3,1160.4 477.5,1157.3 477.7,1154.3 477.9,1151.3 478.1,1148.5 478.3,1145.6 478.5,1142.5 478.7,1139.5 478.9,1136.3 479.1,1133.2 479.3,1130.0 479.5,1126.9 479.7,1123.9 479.9,1120.9 480.1,1118.0 480.3,1115.2 480.5,1112.6 480.7,1110.1 480.9,1107.9 481.1,1105.9 481.3,1104.1 481.5,1102.5 481.7,1101.3 482.1,1099.8 482.7,1098.4 483.3,1097.1 483.9,1095.9 484.5,1094.7 485.1,1093.8 485.9,1092.6 486.7,1091.7 487.6,1090.9 488.6,1090.3 489.9,1090.0 491.1,1090.3 492.2,1090.9 493.0,1091.7 493.9,1092.6 494.7,1093.7 495.6,1094.8 496.5,1096.0 497.3,1097.1 498.2,1098.2 499.1,1099.2 500.0,1100.0 500.9,1100.7 501.8,1101.4 502.7,1102.2 503.6,1103.0 504.5,1103.8 505.4,1104.5 506.3,1105.1 507.4,1105.9 508.6,1106.5 509.8,1106.8 510.9,1107.0 511.9,1105.9 512.3,1104.5 512.8,1102.5 513.1,1101.4 513.3,1100.1 513.5,1098.8 513.8,1097.3 514.0,1095.7 514.2,1094.1 514.5,1092.3 514.7,1090.5 515.0,1088.6 515.2,1086.7 515.4,1084.7 515.7,1082.7 515.9,1080.6 516.2,1078.3 516.4,1075.4 516.7,1071.7 516.9,1067.5 517.1,1062.7 517.4,1057.6 517.6,1052.1 517.9,1046.4 518.1,1040.5 518.4,1034.6 518.6,1028.7 518.8,1023.0 519.1,1017.4 519.3,1012.1 519.6,1007.2 519.8,1002.8 520.1,998.9 520.3,995.1 520.6,991.3 520.8,987.4 521.1,983.4 521.3,979.4 521.6,975.4 521.8,971.5 522.1,967.5 522.3,963.6 522.6,959.8 522.8,956.1 523.1,952.5 523.3,949.1 523.6,945.7 523.8,942.6 524.1,939.6 524.3,936.9 524.6,934.4 524.8,932.1 525.1,930.1 525.3,928.4 525.6,927.0 526.1,925.3 526.8,926.5 527.1,928.5 527.4,931.3 527.6,934.8 527.9,938.8 528.1,943.3 528.4,948.1 528.6,953.2 528.9,958.4 529.1,963.7 529.4,968.9 529.7,973.9 529.9,978.7 530.2,983.3 530.4,988.1 530.7,993.3 531.0,998.6 531.2,1004.2 531.5,1010.0 531.7,1015.8 532.0,1021.7 532.3,1027.7 532.5,1033.6 532.8,1039.5 533.1,1045.3 533.3,1050.9 533.6,1056.3 533.9,1061.5 534.1,1066.4 534.4,1070.9 534.6,1075.1 534.9,1078.8 535.2,1082.2 535.4,1085.6 535.7,1089.1 536.0,1092.5 536.2,1096.0 536.5,1099.3 536.8,1102.6 537.0,1105.8 537.3,1108.9 537.6,1111.8 537.9,1114.5 538.1,1117.0 538.4,1119.2 538.7,1121.2 538.9,1122.9 539.2,1124.2 539.7,1125.8 540.6,1123.0 540.8,1119.6 541.1,1115.2 541.4,1109.9 541.7,1104.0 541.9,1097.5 542.2,1090.7 542.5,1083.7 542.8,1076.7 543.0,1069.9 543.3,1063.4 543.6,1057.4 543.9,1052.2 544.1,1047.6 544.4,1042.8 544.7,1037.9 545.0,1032.8 545.3,1027.6 545.5,1022.4 545.8,1017.4 546.1,1012.5 546.4,1007.8 546.7,1003.4 546.9,999.4 547.2,995.9 547.5,992.9 547.8,990.6 548.1,989.0 549.2,988.9 549.8,990.9 550.1,992.1 550.4,993.6 550.6,995.2 550.9,996.9 551.2,998.7 551.5,1000.5 551.8,1002.4 552.1,1004.3 552.4,1006.2 552.7,1008.0 553.0,1009.7 553.2,1011.5 553.5,1013.6 553.8,1015.9 554.1,1018.4 554.4,1021.0 554.7,1023.7 555.0,1026.3 555.3,1028.7 555.6,1031.0 555.9,1033.1 556.2,1034.7 556.5,1036.0 557.1,1037.0 557.9,1035.4 558.5,1033.1 558.8,1031.6 559.1,1029.9 559.4,1028.1 559.7,1026.2 560.0,1024.2 560.3,1022.1 560.6,1019.9 560.9,1017.8 561.2,1015.6 561.5,1013.6 561.8,1011.5 562.1,1009.6 562.4,1007.8 562.7,1006.2 563.0,1004.8 563.4,1003.4 563.7,1001.9 564.0,1000.4 564.3,998.8 564.6,997.3 564.9,995.7 565.2,994.1 565.5,992.5 565.8,991.0 566.1,989.5 566.4,988.1 566.7,986.7 567.0,985.5 567.3,984.3 567.7,983.2 568.3,981.5 568.9,980.4 570.2,982.4 570.5,985.1 570.8,988.6 571.1,992.8 571.4,997.5 571.7,1002.7 572.1,1008.1 572.4,1013.7 572.7,1019.4 573.0,1024.9 573.3,1030.2 573.6,1035.1 574.0,1039.5 574.3,1043.6 574.6,1048.1 574.9,1052.8 575.2,1057.6 575.6,1062.6 575.9,1067.7 576.2,1072.8 576.5,1077.8 576.9,1082.7 577.2,1087.3 577.5,1091.8 577.8,1095.9 578.2,1099.7 578.5,1103.0 578.8,1105.8 579.1,1108.1 579.5,1109.7 580.1,1110.7 581.1,1109.9 581.8,1108.8 582.4,1107.3 583.1,1105.7 583.8,1104.1 584.4,1102.5 585.1,1101.2 585.8,1100.2 586.8,1099.4 587.8,1098.9 588.8,1098.5 589.9,1098.1 590.9,1097.5 591.9,1096.7 593.0,1095.5 593.7,1094.4 594.4,1093.1 595.1,1091.5 595.8,1089.5 596.1,1088.3 596.5,1087.1 596.8,1085.7 597.2,1084.0 597.5,1081.1 597.9,1076.8 598.2,1071.6 598.6,1065.6 599.0,1059.1 599.3,1052.5 599.7,1045.8 600.0,1039.5 600.4,1032.7 600.7,1025.0 601.1,1016.8 601.5,1008.4 601.8,1000.3 602.2,992.8 602.6,986.2 602.9,981.0 603.3,976.9 603.6,972.9 604.0,968.9 604.4,965.2 604.7,961.7 605.1,958.5 605.5,955.8 605.8,953.4 606.2,951.7 606.6,950.5 607.7,950.2 608.8,951.0 609.5,951.9 610.3,952.9 611.0,953.9 611.8,954.9 612.5,955.8 613.7,956.8 614.8,955.7 615.2,951.7 615.6,946.2 616.0,940.3 616.4,934.2 616.7,927.0 617.1,918.9 617.5,910.5 617.9,902.1 618.3,893.4 618.7,883.2 619.1,872.9 619.5,863.8 619.8,857.5 620.2,854.5 620.6,852.2 621.0,850.3 621.4,848.7 621.8,847.3 622.2,846.0 622.6,844.9 623.0,843.9 623.4,842.8 623.8,841.7 624.2,840.5 624.6,839.4 625.4,837.6 626.2,835.9 627.0,833.9 627.4,832.6 627.8,831.1 628.2,829.1 628.6,825.8 629.0,821.1 629.4,815.5 629.8,809.3 630.2,802.7 630.6,796.2 631.0,790.0 631.4,784.1 631.8,778.2 632.2,772.0 632.6,765.4 633.0,758.1 633.5,749.8 633.9,740.2 634.3,729.9 634.7,719.2 635.1,708.5 635.5,698.2 635.9,688.7 636.4,680.5 636.8,673.5 637.2,667.0 637.6,660.8 638.0,655.2 638.4,650.2 638.9,646.1 639.3,642.7 639.7,639.3 640.1,636.0 640.6,633.2 641.0,631.0 641.4,629.5 642.7,631.4 643.1,633.9 643.5,637.1 644.0,640.5 644.4,644.1 644.8,647.9 645.3,652.4 645.7,657.7 646.1,663.7 646.6,670.4 647.0,677.8 647.4,686.6 647.9,697.3 648.3,709.4 648.7,722.3 649.2,735.3 649.6,748.1 650.0,761.1 650.5,774.6 650.9,787.8 651.4,800.6 651.8,813.1 652.3,825.5 652.7,837.8 653.1,850.1 653.6,862.4 654.0,875.3 654.5,888.6 654.9,901.9 655.4,914.7 655.8,926.4 656.3,936.5 656.7,945.0 657.2,952.9 657.6,960.4 658.1,967.4 658.5,973.8 659.0,979.6 659.4,984.7 659.9,989.1 660.4,993.0 660.8,996.8 661.3,1000.5 661.7,1004.1 662.2,1007.5 662.6,1010.6 663.1,1013.3 663.6,1015.5 664.0,1017.3 664.5,1018.4 665.9,1017.2 666.4,1015.4 666.8,1012.9 667.3,1010.0 667.8,1006.7 668.2,1003.1 668.7,999.5 669.2,995.9 669.7,992.4 670.1,989.1 670.6,985.8 671.1,982.4 671.6,978.8 672.0,975.1 672.5,971.3 673.0,967.3 673.5,963.3 674.0,959.2 674.4,955.0 674.9,950.8 675.4,946.2 675.9,941.0 676.4,935.4 676.9,929.6 677.3,923.7 677.8,917.9 678.3,912.6 678.8,907.8 679.3,903.9 679.8,900.9 680.3,899.0 680.8,897.4 681.3,895.9 681.8,894.5 682.3,893.3 682.7,892.1 683.2,891.1 684.2,889.3 685.2,887.6 686.2,886.1 687.3,884.6 688.3,883.0 689.3,881.5 690.3,880.0 691.3,878.7 692.3,877.7 693.4,877.1 694.4,877.7 694.9,880.3 695.5,884.3 696.0,889.3 696.5,894.7 697.0,900.2 697.5,906.0 698.1,912.8 698.6,920.4 699.1,928.7 699.6,937.7 700.2,947.1 700.7,957.0 701.2,967.7 701.8,979.5 702.3,992.4 702.8,1005.9 703.4,1019.9 703.9,1034.2 704.4,1048.5 705.0,1063.0 705.5,1078.6 706.0,1094.9 706.6,1111.1 707.1,1126.7 707.7,1141.1 708.2,1153.7 708.8,1164.6 709.3,1174.3 709.8,1183.5 710.4,1192.7 710.9,1202.3 711.5,1212.9 712.0,1225.0 712.6,1241.7 713.1,1259.3 713.7,1271.0 714.3,1280.1 714.8,1288.7 715.4,1296.6 715.9,1304.0 716.5,1310.9 717.0,1317.2 717.6,1323.1 718.2,1328.6 718.7,1333.6 719.3,1338.3 719.9,1342.6 720.4,1346.7 721.0,1350.5 721.6,1354.0 722.1,1357.3 722.7,1360.6 723.3,1363.7 723.8,1366.6 724.4,1369.5 725.0,1372.2 725.6,1374.8 726.2,1377.3 726.7,1379.6 727.3,1381.9 727.9,1384.1 728.5,1386.1 729.1,1388.1 729.6,1390.0 730.2,1391.7 730.8,1393.4 731.4,1395.0 732.0,1396.6 732.6,1398.1 733.2,1399.5 733.8,1400.8 734.4,1402.2 735.0,1403.5 735.6,1404.7 736.1,1405.9 736.7,1407.1 737.3,1408.2 737.9,1409.3 738.5,1410.3 739.2,1411.4 739.8,1412.4 740.4,1413.3 741.0,1414.3 741.6,1415.2 742.8,1417.0 744.0,1418.7 745.2,1420.3 746.5,1422.0 747.7,1423.7 749.0,1425.5 750.2,1427.3 751.5,1429.0 752.7,1430.7 754.0,1432.3 755.3,1433.9 756.5,1435.3 757.8,1436.6 759.1,1437.7 760.4,1438.6 761.7,1439.3 763.0,1439.8 764.3,1440.0 765.6,1439.9 766.9,1439.7 768.3,1439.3 769.6,1438.8 770.9,1438.1 772.3,1437.4 773.6,1436.5 775.0,1435.6 776.3,1434.7 777.7,1433.7 779.0,1432.7 780.4,1431.7 781.8,1430.7 783.2,1429.6 784.6,1428.3 786.0,1427.0 787.4,1425.4 788.8,1423.7 789.5,1422.7 790.2,1421.7 790.9,1420.7 791.6,1419.5 792.3,1418.3 793.1,1416.9 793.8,1415.1 794.5,1412.9 795.2,1410.4 795.9,1407.6 796.7,1404.6 797.4,1401.4 798.1,1398.0 798.8,1394.5 799.6,1391.0 800.3,1387.4 801.0,1383.9 801.8,1380.5 802.5,1377.2 803.2,1374.0 804.0,1370.8 804.7,1367.4 805.5,1364.0 806.2,1360.6 806.9,1357.2 807.7,1353.9 808.4,1350.8 809.2,1347.8 809.9,1345.2 810.7,1342.6 811.5,1339.9 812.2,1337.2 813.0,1334.7 813.7,1332.4 814.5,1330.6 815.3,1329.4 816.8,1329.2 818.3,1330.2 819.1,1331.1 819.9,1332.1 820.6,1333.2 821.4,1334.4 822.2,1335.7 823.0,1337.0 823.8,1338.2 824.6,1339.4 825.3,1340.5 826.1,1341.6 826.9,1342.8 827.7,1344.0 828.5,1345.3 829.3,1346.5 830.1,1347.8 830.9,1349.1 831.7,1350.4 832.5,1351.6 833.3,1352.8 834.1,1353.9 834.9,1354.9 835.7,1355.9 836.5,1357.0 837.4,1358.1 838.2,1359.2 839.0,1360.2 839.8,1361.3 840.6,1362.3 841.5,1363.2 842.3,1364.1 843.9,1365.4 845.6,1366.0 847.3,1365.2 848.1,1363.8 849.0,1361.9 849.8,1359.5 850.6,1356.9 851.5,1354.0 852.3,1350.9 853.2,1347.8 854.0,1344.8 854.9,1341.7 855.8,1338.1 856.6,1334.2 857.5,1330.0 858.3,1325.5 859.2,1320.8 860.1,1315.9 860.9,1310.9 861.8,1305.7 862.7,1300.2 863.6,1294.5 864.4,1288.4 865.3,1282.1 866.2,1275.6 867.1,1268.9 868.0,1262.1 868.9,1255.1 869.8,1248.0 870.6,1240.6 871.5,1232.5 872.4,1224.1 873.3,1215.5 874.2,1207.0 875.1,1199.0 876.1,1191.6 877.0,1185.1 877.9,1179.3 878.8,1173.6 879.7,1167.6 880.6,1160.7 881.5,1152.2 882.5,1142.0 883.4,1131.1 884.3,1120.7 885.2,1111.8 886.2,1105.1 887.1,1098.8 888.0,1092.8 889.0,1087.2 889.9,1082.2 890.9,1077.8 891.8,1074.3 892.7,1071.6 893.7,1069.7 894.6,1068.1 895.6,1066.8 896.6,1065.7 897.5,1064.6 898.5,1063.6 899.4,1062.6 900.4,1061.6 901.4,1060.6 902.3,1059.8 903.3,1058.9 904.3,1058.0 905.3,1057.0 906.3,1055.7 907.2,1053.9 908.2,1050.7 909.2,1046.6 910.2,1042.3 911.2,1038.4 912.2,1035.4 913.2,1033.6 914.2,1032.0 915.2,1030.7 916.2,1029.5 917.2,1028.6 918.2,1027.9 919.2,1027.2 920.3,1026.6 921.3,1026.0 922.3,1025.6 924.3,1025.0 926.4,1025.6 927.4,1026.7 928.5,1028.2 929.5,1030.0 930.6,1032.0 931.6,1034.2 932.7,1036.5 933.7,1039.3 934.8,1042.7 935.8,1046.6 936.9,1051.0 937.9,1055.8 939.0,1061.1 940.1,1067.9 941.2,1076.6 942.2,1086.3 943.3,1096.0 944.4,1104.8 945.5,1111.8 946.6,1118.0 947.6,1123.6 948.7,1128.8 949.8,1133.9 950.9,1139.0 952.0,1144.2 953.1,1149.7 954.2,1155.4 955.3,1161.2 956.5,1167.0 957.6,1172.6 958.7,1178.1 959.8,1183.2 960.9,1188.1 962.1,1193.0 963.2,1197.5 964.3,1201.3 965.5,1204.0 966.6,1206.5 967.7,1208.7 968.9,1210.5 970.0,1211.7 971.2,1212.0 972.4,1211.6 973.5,1210.6 974.7,1209.1 975.8,1207.3 977.0,1205.3 978.2,1203.2 979.4,1201.1 980.5,1199.1 981.7,1196.7 982.9,1194.1 984.1,1191.2 985.3,1188.2 986.5,1185.3 987.7,1182.5 988.9,1180.0 990.1,1177.9 991.3,1175.9 992.5,1173.8 993.7,1171.9 994.9,1170.1 996.1,1168.8 997.4,1168.1 998.6,1168.2 999.8,1169.4 1001.1,1171.6 1002.3,1174.5 1003.6,1178.0 1004.8,1181.6 1006.1,1185.1 1007.3,1189.0 1008.6,1193.4 1009.8,1198.4 1011.1,1203.7 1012.4,1209.4 1013.6,1215.2 1014.9,1221.1 1016.2,1227.0 1017.5,1232.7 1018.8,1238.2 1020.0,1243.8 1021.3,1249.4 1022.6,1255.1 1023.9,1260.9 1025.2,1266.6 1026.6,1272.4 1027.9,1278.2 1029.2,1284.0 1030.5,1289.7 1031.8,1295.4 1033.2,1301.0 1034.5,1306.5 1035.8,1311.9 1037.2,1317.3 1038.5,1322.7 1039.9,1328.1 1041.2,1333.5 1042.6,1338.8 1043.9,1344.1 1045.3,1349.3 1046.7,1354.4 1048.0,1359.4 1049.4,1364.1 1050.8,1368.7 1052.2,1373.1 1053.6,1377.3 1055.0,1381.3 1056.4,1385.3 1057.8,1389.2 1059.2,1392.9 1060.6,1396.6 1062.0,1400.1 1063.4,1403.6 1064.8,1406.9 1066.3,1410.2 1067.7,1413.3 1069.1,1416.3 1070.6,1419.1 1072.0,1422.0 1073.5,1424.7 1074.9,1427.4 1076.4,1430.0 1077.9,1432.5 1079.3,1434.9 1080.8,1437.3 1082.3,1439.5 1083.8,1441.7 1085.2,1443.7 1086.7,1445.7 1088.2,1447.5 1089.7,1449.3 1091.2,1451.1 1092.7,1452.8 1094.3,1454.5 1095.8,1456.1 1097.3,1457.6 1098.8,1459.1 1100.4,1460.6 1101.9,1462.0 1103.5,1463.4 1105.0,1464.7 1106.6,1465.9 1108.1,1467.2 1109.7,1468.3 1111.2,1469.5 1112.8,1470.6 1114.4,1471.7 1116.0,1472.8 1117.6,1473.8 1119.2,1474.8 1120.8,1475.8 1122.4,1476.7 1124.0,1477.6 1125.6,1478.4 1127.2,1479.2 1128.8,1480.0 1130.5,1480.7 1132.1,1481.4 1133.8,1482.0 1135.4,1482.6 1137.1,1483.2 1138.7,1483.7 1140.4,1484.3 1142.0,1484.8 1143.7,1485.3 1145.4,1485.8 1147.1,1486.3 1148.8,1486.8 1150.5,1487.3 1152.2,1487.8 1153.9,1488.3 1155.6,1488.8 1157.3,1489.3 1159.1,1489.8 1160.8,1490.3 1162.5,1490.9 1164.3,1491.4 1166.0,1491.9 1167.8,1492.4 1169.5,1492.9 1171.3,1493.4 1173.1,1493.8 1174.9,1494.3 1176.6,1494.7 1178.4,1495.2 1180.2,1495.6 1182.0,1496.0 1183.8,1496.3 1185.7,1496.7 1187.5,1497.0 1189.3,1497.3 1191.1,1497.5 1193.0,1497.8 1194.8,1498.0 1196.7,1498.2 1198.5,1498.4 1200.4,1498.6 1202.3,1498.8 1204.2,1499.0 1206.1,1499.2 1208.0,1499.4 1209.9,1499.5 1211.8,1499.7 1213.7,1499.9 1215.6,1500.0 1217.5,1500.2 1219.5,1500.3 1221.4,1500.5 1223.4,1500.6 1225.3,1500.8 1227.3,1500.9 1229.2,1501.0 1231.2,1501.2 1233.2,1501.3 1235.2,1501.4 1237.2,1501.6 1239.2,1501.7 1241.2,1501.8 1243.2,1501.9 1245.3,1502.1 1247.3,1502.2 1249.3,1502.3 1251.4,1502.4 1253.4,1502.6 1255.5,1502.7 1257.6,1502.8 1259.7,1503.0 1261.7,1503.1 1263.8,1503.3 1265.9,1503.4 1268.1,1503.5 1270.2,1503.7 1272.3,1503.8 1274.4,1504.0 1276.6,1504.1 1278.7,1504.3 1280.9,1504.4 1283.1,1504.6 1285.2,1504.7 1287.4,1504.8 1289.6,1505.0 1291.8,1505.1 1294.0,1505.3 1296.2,1505.4 1298.5,1505.5 1300.7,1505.7 1302.9,1505.8 1305.2,1505.9 1307.5,1506.0 1309.7,1506.2 1312.0,1506.3 1314.3,1506.4 1316.6,1506.5 1318.9,1506.6 1321.2,1506.7 1323.5,1506.8 1325.9,1506.9 1328.2,1507.0 1330.6,1507.1 1332.9,1507.1 1335.3,1507.2 1337.7,1507.3 1340.0,1507.4 1342.4,1507.4 1344.9,1507.5 1347.3,1507.6 1349.7,1507.7 1352.1,1507.8 1354.6,1507.8 1357.0,1507.9 1359.5,1508.0 1362.0,1508.1 1364.5,1508.1 1366.9,1508.2 1369.5,1508.3 1372.0,1508.3 1374.5,1508.4 1377.0,1508.5 1379.6,1508.6 1382.1,1508.6 1384.7,1508.7 1387.3,1508.8 1389.9,1508.8 1392.5,1508.9 1395.1,1508.9 1397.7,1509.0 1400.3,1509.0 1403.0,1509.1 1405.6,1509.1 1408.3,1509.2 1411.0,1509.2 1413.7,1509.3 1416.4,1509.3 1419.1,1509.3 1421.8,1509.4 1424.5,1509.4 1427.3,1509.4 1430.0,1509.5 1432.8,1509.5 1435.6,1509.5 1438.4,1509.5 1441.2,1509.5 1444.0,1509.5 1446.8,1509.5 1449.6,1509.5 1452.5,1509.5 1455.4,1509.5 1458.2,1509.5 1461.1,1509.5 1464.0,1509.5 1466.9,1509.5 1469.9,1509.5 1472.8,1509.5 1475.8,1509.5 1478.7,1509.5 1481.7,1509.5 1484.7,1509.5 1487.7,1509.5 1490.7,1509.5 1493.8,1509.5 1496.8,1509.5 1499.9,1509.5 1502.9,1509.5 1506.0,1509.5 1509.1,1509.5 1512.3,1509.5 1515.4,1509.5 1518.5,1509.5 1521.7,1509.5 1524.9,1509.5 1528.0,1509.5 1531.2,1509.5 1534.5,1509.5 1537.7,1509.5 1540.9,1509.5 1544.2,1509.5 1547.5,1509.5 1550.8,1509.5 1554.1,1509.5 1557.4,1509.5 1560.7,1509.5 1564.1,1509.5 1567.5,1509.5 1570.9,1509.5 1574.3,1509.5 1577.7,1509.5 1581.1,1509.5 1584.6,1509.5 1588.0,1509.5 1591.5,1509.5 1595.0,1509.5 1598.5,1509.5 1602.1,1509.5 1605.6,1509.5 1609.2,1509.5 1612.8,1509.5 1616.4,1509.5 1620.0,1509.5 1623.6,1509.5 1627.3,1509.5 1631.0,1509.5 1634.7,1509.5 1638.4,1509.5 1642.1,1509.5 1645.9,1509.5 1649.6,1509.5 1653.4,1509.5 1657.2,1509.5 1661.0,1509.5 1664.9,1509.5 1668.7,1509.5 1672.6,1509.5 1676.5,1509.5 1680.4,1509.5 1684.4,1509.5 1688.3,1509.5 1692.3,1509.5 1696.3,1509.5 1700.3,1509.5 1704.4,1509.5 1708.5,1509.5 1712.5,1509.5 1716.6,1509.5 1720.8,1509.5 1724.9,1509.5 1729.1,1509.5 1733.3,1509.5 1737.5,1509.5 1741.7,1509.5 1746.0,1509.5 1750.3,1509.5 1754.6,1509.5 1758.9,1509.5 1763.3,1509.5 1767.6,1509.5 1772.0,1509.5 1776.5,1509.4 1780.9,1509.4 1785.4,1509.4 1789.9,1509.4 1794.4,1509.4 1798.9,1509.4 1803.5,1509.4 1808.1,1509.4 1812.7,1509.4 1817.4,1509.4 1822.0,1509.4 1826.7,1509.4 1831.5,1509.4 1836.2,1509.3 1841.0,1509.3 1845.8,1509.3 1850.6,1509.3 1855.5,1509.3 1860.3,1509.3 1865.3,1509.3 1870.2,1509.3 1875.2,1509.3 1880.2,1509.3 1885.2,1509.2 1890.2,1509.2 1895.3,1509.2 1900.4,1509.2 1905.6,1509.2 1910.8,1509.2 1916.0,1509.2 1921.2,1509.2 1926.5,1509.2 1931.8,1509.1 1937.1,1509.1 1942.4,1509.1 1947.8,1509.1 1953.2,1509.1 1958.7,1509.1 1964.2,1509.1 1969.7,1509.1 1975.3,1509.0 1980.9,1509.0 1986.5,1509.0 1992.1,1509.0 1997.8,1509.0 2003.6,1509.0 2009.3,1509.0 2015.1,1509.0 2020.9,1509.0 2026.8,1508.9 2032.7,1508.9 2038.7,1508.9 2044.6,1508.9 2050.7,1508.9 2056.7,1508.9 2062.8,1508.9 2068.9,1508.9 2075.1,1508.8 2081.3,1508.8 2087.6,1508.8 2093.9,1508.8 2100.2,1508.8 2106.6,1508.8 2113.0,1508.8 2119.4,1508.7 2125.9,1508.7 2132.5,1508.7 2139.1,1508.7 2145.7,1508.7 2152.4,1508.7 2159.1,1508.7 2165.8,1508.6 2172.6,1508.6 2179.5,1508.6 2186.4,1508.6 2193.3,1508.6 2200.3,1508.6 2207.4,1508.5 2214.5,1508.5 2221.6,1508.5"/>
<polyline stroke="#ff00ff" marker-start="url(#m2)" marker-mid="url(#m2)" marker-end="url(#m2)" points="256.0,1508.0 257.1,1507.6 258.1,1507.3 259.1,1506.9 260.2,1506.6 261.3,1506.2 262.3,1505.9 263.4,1505.6 264.5,1505.2 265.5,1504.9 266.6,1504.6 267.7,1504.3 268.7,1503.9 269.8,1503.6 270.9,1503.3 271.9,1503.0 273.0,1502.8 274.1,1502.5 275.2,1502.2 276.3,1502.0 277.4,1501.7 278.5,1501.5 279.6,1501.3 280.7,1501.1 281.8,1500.9 282.9,1500.7 284.0,1500.5 285.1,1500.3 286.2,1500.1 287.3,1500.0 288.4,1499.8 289.5,1499.6 290.6,1499.5 291.8,1499.3 292.9,1499.2 294.0,1499.0 295.1,1498.9 296.3,1498.8 297.4,1498.6 298.5,1498.5 299.6,1498.4 300.7,1498.2 301.8,1498.1 303.0,1498.0 304.1,1497.9 305.2,1497.7 306.3,1497.6 307.4,1497.5 308.5,1497.4 309.7,1497.2 310.8,1497.1 311.9,1497.0 313.0,1496.9 314.2,1496.7 315.3,1496.6 316.4,1496.5 317.5,1496.3 318.7,1496.2 319.8,1496.0 320.9,1495.9 322.0,1495.7 323.1,1495.6 324.3,1495.4 325.4,1495.3 326.5,1495.1 327.6,1495.0 328.7,1494.8 329.9,1494.7 331.0,1494.5 332.1,1494.4 333.2,1494.3 334.3,1494.1 335.4,1493.9 336.6,1493.8 337.7,1493.6 338.8,1493.5 339.9,1493.3 341.1,1493.2 342.2,1493.0 343.4,1492.9 344.5,1492.7 345.6,1492.6 346.7,1492.4 347.8,1492.3 349.0,1492.1 350.2,1492.0 351.2,1491.8 352.4,1491.7 353.5,1491.6 354.6,1491.4 355.7,1491.3 356.9,1491.2 358.0,1491.1 359.2,1490.9 360.3,1490.8 361.4,1490.7 362.6,1490.6 363.7,1490.4 364.8,1490.3 366.0,1490.1 367.2,1489.9 368.2,1489.8 369.3,1489.6 370.5,1489.4 371.6,1489.2 372.7,1489.0 373.8,1488.7 375.0,1488.4 376.1,1488.1 377.1,1487.7 378.2,1487.3 379.3,1486.9 380.4,1486.4 381.4,1486.0 382.5,1485.6 383.5,1485.1 384.5,1484.6 385.6,1484.1 386.6,1483.6 387.7,1483.1 388.8,1482.6 389.8,1482.1 390.9,1481.6 392.0,1481.3 393.1,1480.9 394.3,1480.5 395.3,1480.0 396.2,1479.3 397.1,1478.5 397.8,1477.0 398.0,1475.4 398.3,1473.2 398.4,1471.9 398.5,1470.5 398.6,1469.0 398.7,1467.5 398.8,1465.9 399.0,1464.2 399.1,1462.5 399.2,1460.8 399.3,1459.1 399.4,1457.5 399.5,1455.8 399.7,1454.2 399.8,1452.7 399.9,1451.3 400.0,1450.0 400.1,1448.6 400.2,1447.2 400.4,1445.8 400.5,1444.2 400.6,1442.7 400.7,1441.1 400.8,1439.4 400.9,1437.8 401.1,1436.1 401.2,1434.5 401.3,1432.9 401.4,1431.3 401.5,1429.7 401.7,1428.2 401.8,1426.7 401.9,1425.4 402.0,1424.1 402.1,1422.9 402.3,1421.8 402.5,1419.9 402.7,1418.7 403.5,1417.7 404.4,1417.0 405.4,1416.5 406.5,1416.0 407.6,1415.5 408.7,1415.2 409.9,1415.0 411.0,1414.7 412.2,1414.5 413.3,1414.3 414.5,1414.1 415.7,1413.9 416.8,1413.6 418.0,1413.4 419.3,1413.3 420.5,1413.1 421.7,1413.0 422.8,1412.9 423.9,1412.7 425.0,1412.6 426.2,1412.4 427.3,1412.3 428.4,1412.0 429.6,1411.8 430.8,1411.4 431.9,1411.0 432.8,1410.3 433.4,1409.2 433.9,1408.2 434.3,1407.0 434.8,1405.5 435.2,1403.9 435.5,1402.8 435.8,1401.6 436.1,1400.3 436.4,1398.9 436.7,1397.5 437.0,1396.0 437.3,1394.5 437.6,1393.0 437.9,1391.4 438.2,1389.8 438.5,1388.1 438.9,1386.5 439.2,1384.8 439.5,1383.1 439.8,1381.4 440.1,1379.6 440.4,1377.9 440.7,1376.2 441.0,1374.5 441.3,1372.9 441.6,1371.2 442.0,1369.4 442.3,1367.5 442.6,1365.4 442.9,1363.2 443.1,1362.1 443.2,1361.0 443.4,1359.8 443.5,1358.6 443.7,1357.5 443.9,1356.3 444.0,1355.1 444.2,1353.8 444.3,1352.6 444.5,1351.4 444.7,1350.2 444.8,1349.0 445.0,1347.8 445.1,1346.6 445.3,1345.4 445.5,1344.2 445.6,1343.0 445.8,1341.9 445.9,1340.8 446.1,1339.6 446.4,1337.5 446.7,1335.5 447.1,1333.6 447.4,1331.7 447.7,1329.9 448.0,1328.0 448.4,1326.2 448.7,1324.4 449.0,1322.6 449.4,1320.8 449.7,1319.1 450.0,1317.4 450.4,1315.7 450.7,1314.1 451.0,1312.6 451.4,1311.1 451.7,1309.7 452.0,1308.4 452.4,1307.1 452.7,1306.0 453.0,1304.9 453.5,1303.5 454.0,1302.1 454.6,1300.8 455.1,1299.6 455.6,1298.5 456.1,1297.4 456.6,1296.4 457.1,1295.4 457.8,1294.2 458.5,1292.9 459.2,1291.6 459.9,1290.4 460.6,1289.2 461.3,1288.2 462.0,1287.1 462.8,1286.1 463.5,1285.1 464.2,1284.1 464.9,1283.1 465.6,1282.1 466.4,1281.1 467.1,1280.0 467.8,1278.8 468.6,1277.6 469.1,1276.6 469.7,1275.6 470.3,1274.5 470.8,1273.4 471.4,1272.2 471.9,1270.9 472.5,1269.7 473.1,1268.3 473.7,1266.9 474.2,1265.4 474.6,1264.4 475.0,1263.3 475.4,1262.2 475.8,1261.0 476.2,1259.8 476.5,1258.5 476.9,1257.2 477.3,1255.9 477.7,1254.4 478.1,1252.8 478.5,1251.1 478.9,1249.4 479.3,1247.5 479.7,1245.6 480.1,1243.6 480.5,1241.5 480.9,1239.3 481.1,1238.2 481.3,1237.1 481.5,1236.0 481.7,1234.8 481.9,1233.7 482.1,1232.5 482.3,1231.4 482.5,1230.2 482.7,1229.0 482.9,1227.8 483.1,1226.6 483.3,1225.4 483.5,1224.1 483.7,1222.9 483.9,1221.6 484.1,1220.3 484.3,1218.9 484.5,1217.6 484.7,1216.1 484.9,1214.7 485.1,1213.2 485.3,1211.7 485.5,1210.2 485.7,1208.7 485.9,1207.1 486.1,1205.5 486.3,1204.0 486.5,1202.4 486.7,1200.8 486.9,1199.2 487.2,1197.7 487.4,1196.1 487.6,1194.5 487.8,1192.9 488.0,1191.4 488.2,1189.8 488.4,1188.2 488.6,1186.7 488.8,1185.1 489.0,1183.5 489.2,1181.9 489.4,1180.4 489.6,1178.8 489.9,1177.2 490.1,1175.6 490.3,1174.0 490.5,1172.4 490.7,1170.8 490.9,1169.1 491.1,1167.5 491.3,1165.9 491.5,1164.3 491.7,1162.6 492.0,1161.0 492.2,1159.3 492.4,1157.7 492.6,1156.0 492.8,1154.3 493.0,1152.6 493.2,1150.9 493.5,1149.2 493.7,1147.5 493.9,1145.8 494.1,1144.1 494.3,1142.3 494.5,1140.6 494.7,1138.8 495.0,1137.0 495.2,1135.2 495.4,1133.4 495.6,1131.6 495.8,1129.8 496.0,1127.9 496.3,1126.1 496.5,1124.2 496.7,1122.3 496.9,1120.4 497.1,1118.5 497.3,1116.6 497.6,1114.7 497.8,1112.7 498.0,1110.7 498.2,1108.7 498.4,1106.7 498.7,1104.7 498.9,1102.6 499.1,1100.5 499.3,1098.3 499.5,1096.2 499.8,1094.0 500.0,1091.8 500.2,1089.5 500.4,1087.3 500.6,1085.0 500.9,1082.7 501.1,1080.4 501.3,1078.1 501.5,1075.8 501.8,1073.4 502.0,1071.1 502.2,1068.7 502.4,1066.3 502.7,1063.9 502.9,1061.5 503.1,1059.1 503.3,1056.7 503.6,1054.2 503.8,1051.8 504.0,1049.4 504.2,1047.0 504.5,1044.5 504.7,1042.1 504.9,1039.7 505.1,1037.3 505.4,1034.9 505.6,1032.5 505.8,1030.1 506.1,1027.7 506.3,1025.3 506.5,1022.9 506.7,1020.6 507.0,1018.3 507.2,1015.9 507.4,1013.6 507.7,1011.3 507.9,1009.0 508.1,1006.8 508.4,1004.5 508.6,1002.2 508.8,999.9 509.1,997.6 509.3,995.4 509.5,993.1 509.8,990.8 510.0,988.6 510.2,986.3 510.5,984.1 510.7,981.8 510.9,979.5 511.2,977.3 511.4,975.0 511.6,972.7 511.9,970.4 512.1,968.2 512.3,965.9 512.6,963.6 512.8,961.3 513.1,959.0 513.3,956.7 513.5,954.4 513.8,952.1 514.0,949.7 514.2,947.4 514.5,945.1 514.7,942.7 515.0,940.3 515.2,938.0 515.4,935.8 515.7,933.6 515.9,931.4 516.2,929.3 516.4,927.2 516.7,925.1 516.9,922.9 517.1,920.7 517.4,918.5 517.6,916.1 517.9,913.6 518.1,911.0 518.4,908.2 518.6,905.3 518.8,902.1 519.1,898.7 519.3,894.3 519.6,888.9 519.8,883.1 520.1,877.1 520.3,871.4 520.6,866.3 520.8,862.2 521.1,859.5 521.3,857.2 521.6,855.1 521.8,853.1 522.1,851.3 522.3,849.9 522.6,848.8 523.6,848.2 524.3,849.3 524.8,850.4 525.3,851.8 525.8,853.4 526.3,855.2 526.8,857.2 527.4,859.3 527.6,860.3 527.9,861.4 528.1,862.6 528.4,864.0 528.6,865.9 528.9,868.0 529.1,870.2 529.4,872.6 529.7,875.0 529.9,877.4 530.2,879.7 530.4,881.7 530.7,883.4 531.0,884.8 531.2,886.0 531.5,887.1 531.7,888.2 532.0,889.3 532.5,891.2 533.1,892.8 533.6,893.7 534.6,893.4 535.2,892.2 535.7,890.5 536.2,888.3 536.5,887.2 536.8,886.0 537.0,884.8 537.3,883.4 537.6,881.6 537.9,879.6 538.1,877.4 538.4,874.9 538.7,872.3 538.9,869.6 539.2,866.7 539.5,863.8 539.7,860.8 540.0,857.8 540.3,854.6 540.6,851.1 540.8,847.3 541.1,843.3 541.4,839.1 541.7,834.8 541.9,830.4 542.2,826.0 542.5,821.6 542.8,817.2 543.0,813.0 543.3,808.9 543.6,805.1 543.9,801.5 544.1,798.3 544.4,795.1 544.7,792.0 545.0,789.0 545.3,786.2 545.5,783.3 545.8,780.6 546.1,778.0 546.4,775.4 546.7,772.9 546.9,770.4 547.2,768.0 547.5,765.6 547.8,763.1 548.1,760.6 548.4,758.2 548.6,755.9 548.9,753.8 549.2,751.8 549.5,750.2 549.8,748.8 550.4,746.9 550.9,745.2 551.5,743.7 552.1,742.3 552.7,741.1 553.2,739.9 553.8,738.9 554.4,737.9 555.3,736.6 556.2,735.3 557.1,734.2 557.9,733.0 558.8,731.8 559.7,730.4 560.3,729.5 560.9,728.5 561.5,727.5 562.1,726.6 562.7,725.6 563.4,724.6 564.0,723.7 564.6,722.8 565.5,721.4 566.4,720.1 567.3,718.9 568.3,717.6 569.2,716.3 569.8,715.4 570.5,714.4 571.1,713.5 571.7,712.6 572.7,711.3 573.6,710.3 574.6,709.5 575.9,709.0 576.9,711.1 577.2,712.8 577.5,715.0 577.8,717.7 578.2,720.8 578.5,724.1 578.8,727.8 579.1,731.8 579.5,736.0 579.8,740.3 580.1,744.8 580.4,749.3 580.8,753.9 581.1,758.5 581.4,763.0 581.8,767.4 582.1,771.7 582.4,775.8 582.8,779.6 583.1,783.4 583.4,787.3 583.8,791.4 584.1,795.7 584.4,800.1 584.8,804.4 585.1,808.8 585.4,813.2 585.8,817.4 586.1,821.6 586.5,825.5 586.8,829.2 587.1,832.7 587.5,835.8 587.8,838.6 588.1,841.0 588.5,843.4 588.8,845.8 589.2,848.2 589.5,850.5 589.9,852.8 590.2,854.9 590.5,857.0 590.9,858.9 591.2,860.6 591.6,862.2 591.9,863.5 592.3,864.6 593.0,865.8 594.4,865.0 595.1,863.4 595.4,862.4 595.8,861.2 596.1,859.8 596.5,858.4 596.8,856.8 597.2,855.1 597.5,853.4 597.9,851.6 598.2,849.7 598.6,847.7 599.0,845.8 599.3,843.8 599.7,841.8 600.0,839.8 600.4,837.7 600.7,835.3 601.1,832.7 601.5,829.9 601.8,826.9 602.2,823.7 602.6,820.4 602.9,816.9 603.3,813.3 603.6,809.6 604.0,805.8 604.4,801.9 604.7,797.9 605.1,794.0 605.5,790.0 605.8,786.0 606.2,782.1 606.6,778.1 606.9,773.9 607.3,769.4 607.7,764.6 608.1,759.6 608.4,754.5 608.8,749.2 609.2,743.8 609.5,738.4 609.9,732.9 610.3,727.4 610.7,722.0 611.0,716.7 611.4,711.4 611.8,706.4 612.2,701.5 612.5,696.9 612.9,692.6 613.3,688.6 613.7,685.0 614.1,681.8 614.4,679.0 614.8,676.6 615.2,674.5 615.6,672.6 616.0,670.8 616.4,669.2 616.7,667.7 617.1,666.2 617.5,664.8 617.9,663.4 618.3,662.0 618.7,660.6 619.1,659.1 619.5,657.5 619.8,655.8 620.2,653.9 620.6,652.1 621.0,650.2 621.4,648.4 621.8,646.4 622.2,644.3 622.6,642.1 623.0,639.6 623.4,636.9 623.8,633.7 624.2,629.5 624.6,624.6 625.0,619.1 625.4,613.5 625.8,608.0 626.2,602.9 626.6,598.6 627.0,595.3 627.4,592.8 627.8,590.5 628.2,588.4 628.6,586.5 629.0,584.7 629.4,583.1 629.8,581.6 630.2,580.2 630.6,579.1 631.0,578.0 631.8,576.0 632.6,574.2 633.5,572.8 634.7,572.1 635.5,573.3 635.9,574.4 636.4,575.8 636.8,577.3 637.2,578.9 637.6,580.6 638.0,582.1 638.4,583.7 638.9,585.6 639.3,587.6 639.7,589.7 640.1,591.8 640.6,593.9 641.0,595.9 641.4,598.1 641.8,600.5 642.3,602.9 642.7,605.1 643.1,606.5 644.4,605.4 644.8,603.7 645.3,601.7 645.7,599.5 646.1,597.4 646.6,594.9 647.0,591.9 647.4,588.6 647.9,585.2 648.3,581.6 648.7,578.1 649.2,574.5 649.6,570.7 650.0,566.7 650.5,562.7 650.9,558.7 651.4,554.7 651.8,550.8 652.3,547.0 652.7,543.1 653.1,539.0 653.6,534.5 654.0,529.7 654.5,524.3 654.9,518.0 655.4,510.8 655.8,502.7 656.3,493.9 656.7,484.8 657.2,475.2 657.6,463.8 658.1,451.5 658.5,439.9 659.0,430.3 659.4,422.5 659.9,415.2 660.4,408.3 660.8,401.9 661.3,395.8 661.7,390.0 662.2,384.7 662.6,379.7 663.1,375.0 663.6,370.7 664.0,366.7 664.5,363.0 665.0,359.4 665.4,356.1 665.9,352.9 666.4,349.9 666.8,347.0 667.3,344.3 667.8,341.7 668.2,339.1 668.7,336.6 669.2,334.2 669.7,331.7 670.1,329.3 670.6,327.1 671.1,325.0 671.6,323.1 672.0,321.2 672.5,319.5 673.0,317.8 673.5,316.0 674.0,314.3 674.4,312.4 674.9,310.5 675.4,308.4 675.9,306.1 676.4,303.6 676.9,300.9 677.3,297.7 677.8,293.9 678.3,289.4 678.8,284.5 679.3,279.2 679.8,273.7 680.3,268.1 680.8,262.6 681.3,257.3 681.8,252.3 682.3,247.7 682.7,243.2 683.2,238.7 683.7,234.2 684.2,229.9 684.7,225.7 685.2,221.7 685.7,217.9 686.2,214.2 686.7,210.7 687.3,207.1 687.8,203.6 688.3,200.2 688.8,196.8 689.3,193.6 689.8,190.6 690.3,187.8 690.8,185.1 691.3,182.7 691.8,180.6 692.3,178.7 692.9,176.8 693.4,174.9 693.9,173.1 694.4,171.3 694.9,169.6 695.5,168.0 696.0,166.5 696.5,165.2 697.0,164.1 698.1,162.5 699.1,162.0 700.2,163.5 700.7,165.0 701.2,167.1 701.8,169.5 702.3,172.3 702.8,175.4 703.4,178.8 703.9,182.3 704.4,186.0 705.0,189.8 705.5,194.2 706.0,199.9 706.6,206.5 707.1,213.6 707.7,220.7 708.2,227.7 708.8,234.9 709.3,242.4 709.8,250.1 710.4,257.8 710.9,265.6 711.5,273.2 712.0,280.6 712.6,287.9 713.1,295.3 713.7,302.6 714.3,309.9 714.8,317.1 715.4,324.0 715.9,330.6 716.5,336.7 717.0,342.5 717.6,348.0 718.2,353.2 718.7,358.2 719.3,363.1 719.9,367.8 720.4,372.5 721.0,377.0 721.6,381.5 722.1,386.1 722.7,390.5 723.3,394.8 723.8,399.0 724.4,403.1 725.0,407.2 725.6,411.3 726.2,415.5 726.7,419.6 727.3,423.9 727.9,428.2 728.5,433.0 729.1,438.1 729.6,443.3 730.2,448.6 730.8,453.8 731.4,458.8 732.0,463.4 732.6,467.6 733.2,471.2 733.8,474.1 734.4,476.3 735.0,478.4 735.6,480.4 736.1,482.2 736.7,483.9 737.3,485.4 737.9,486.6 739.2,487.9 740.4,487.0 741.0,485.2 741.6,482.6 742.2,479.4 742.8,475.6 743.4,471.5 744.0,467.2 744.6,462.7 745.2,458.1 745.9,452.2 746.5,445.1 747.1,437.3 747.7,429.2 748.3,421.0 749.0,413.4 749.6,406.1 750.2,398.8 750.8,391.6 751.5,384.4 752.1,377.4 752.7,370.5 753.4,363.6 754.0,356.7 754.6,349.8 755.3,343.0 755.9,336.4 756.5,330.1 757.2,324.1 757.8,318.5 758.5,313.2 759.1,308.0 759.8,302.8 760.4,297.8 761.0,292.9 761.7,288.2 762.3,283.8 763.0,279.8 763.6,276.1 764.3,272.9 765.0,270.2 765.6,267.7 766.3,265.3 766.9,263.0 767.6,260.7 768.3,258.6 768.9,256.7 769.6,255.0 770.3,253.5 770.9,252.3 772.3,251.1 773.6,251.6 774.3,252.6 775.0,254.1 775.6,255.9 776.3,258.0 777.0,260.4 777.7,262.9 778.4,265.6 779.0,268.3 779.7,271.0 780.4,273.7 781.1,276.6 781.8,279.9 782.5,283.5 783.2,287.4 783.9,291.6 784.6,296.1 785.3,301.0 786.0,306.3 786.7,312.7 787.4,319.8 788.1,327.6 788.8,335.9 789.5,344.4 790.2,353.1 790.9,361.6 791.6,369.9 792.3,377.7 793.1,385.3 793.8,392.7 794.5,400.0 795.2,407.2 795.9,414.4 796.7,421.7 797.4,429.0 798.1,436.5 798.8,444.1 799.6,452.0 800.3,460.3 801.0,468.8 801.8,477.8 802.5,487.3 803.2,497.6 804.0,509.5 804.7,522.2 805.5,535.2 806.2,547.8 806.9,559.2 807.7,569.5 808.4,579.2 809.2,588.5 809.9,597.5 810.7,606.2 811.5,614.8 812.2,623.2 813.0,631.7 813.7,640.3 814.5,649.1 815.3,658.1 816.0,667.5 816.8,677.5 817.6,688.2 818.3,699.6 819.1,711.4 819.9,723.0 820.6,734.2 821.4,744.7 822.2,754.0 823.0,763.1 823.8,772.3 824.6,781.1 825.3,789.4 826.1,796.8 826.9,803.0 827.7,807.7 828.5,810.9 829.3,813.5 830.1,815.6 830.9,817.4 831.7,819.2 832.5,820.9 833.3,822.8 834.1,824.9 834.9,827.2 835.7,829.3 836.5,831.0 837.4,831.9 839.0,831.5 839.8,830.7 840.6,829.6 841.5,828.3 842.3,826.9 843.1,825.4 843.9,823.9 844.8,822.4 845.6,821.0 846.4,819.4 847.3,817.7 848.1,815.9 849.0,814.1 849.8,812.1 850.6,810.1 851.5,808.1 852.3,806.1 853.2,804.1 854.0,802.1 854.9,800.2 855.8,798.3 856.6,796.3 857.5,794.1 858.3,792.0 859.2,789.9 860.1,787.7 860.9,785.7 861.8,783.7 862.7,781.9 863.6,780.3 864.4,778.8 865.3,777.6 866.2,776.3 867.1,775.1 868.0,774.0 868.9,772.9 869.8,772.0 871.5,771.0 873.3,771.8 874.2,773.1 875.1,774.9 876.1,777.1 877.0,779.5 877.9,782.0 878.8,784.4 879.7,786.8 880.6,789.4 881.5,792.2 882.5,795.3 883.4,798.8 884.3,802.7 885.2,807.1 886.2,812.5 887.1,820.1 888.0,829.5 889.0,840.1 889.9,851.3 890.9,862.4 891.8,872.8 892.7,881.9 893.7,889.4 894.6,896.2 895.6,902.7 896.6,908.8 897.5,914.7 898.5,920.6 899.4,926.5 900.4,932.7 901.4,939.1 902.3,945.9 903.3,952.9 904.3,960.0 905.3,967.2 906.3,974.4 907.2,981.6 908.2,988.6 909.2,995.4 910.2,1002.0 911.2,1008.3 912.2,1014.1 913.2,1019.8 914.2,1025.4 915.2,1031.0 916.2,1036.5 917.2,1041.9 918.2,1047.0 919.2,1052.0 920.3,1056.6 921.3,1061.0 922.3,1065.1 923.3,1068.8 924.3,1072.1 925.4,1075.1 926.4,1078.0 927.4,1080.7 928.5,1083.1 929.5,1085.4 930.6,1087.5 931.6,1089.4 932.7,1091.1 933.7,1092.8 934.8,1094.6 935.8,1096.1 936.9,1097.4 937.9,1098.2 939.0,1098.5 940.1,1098.1 941.2,1096.9 942.2,1095.2 943.3,1093.1 944.4,1090.8 945.5,1088.3 946.6,1085.9 947.6,1083.7 948.7,1081.2 949.8,1078.5 950.9,1075.6 952.0,1072.6 953.1,1069.6 954.2,1066.7 955.3,1063.8 956.5,1061.1 957.6,1058.5 958.7,1055.8 959.8,1053.0 960.9,1050.3 962.1,1047.6 963.2,1044.9 964.3,1042.4 965.5,1039.9 966.6,1037.6 967.7,1035.5 968.9,1033.6 970.0,1031.9 971.2,1030.5 972.4,1029.1 973.5,1027.8 974.7,1026.6 975.8,1025.6 977.0,1024.7 978.2,1023.9 979.4,1023.2 980.5,1022.5 981.7,1021.9 982.9,1021.4 984.1,1021.1 985.3,1021.0 986.5,1021.4 987.7,1022.2 988.9,1023.3 990.1,1024.6 991.3,1026.0 992.5,1027.4 993.7,1028.8 994.9,1030.2 996.1,1031.7 997.4,1033.3 998.6,1035.1 999.8,1037.1 1001.1,1039.2 1002.3,1041.6 1003.6,1044.4 1004.8,1047.8 1006.1,1051.7 1007.3,1056.1 1008.6,1060.8 1009.8,1065.8 1011.1,1070.9 1012.4,1076.1 1013.6,1081.1 1014.9,1086.0 1016.2,1090.6 1017.5,1095.0 1018.8,1099.3 1020.0,1103.6 1021.3,1107.8 1022.6,1112.2 1023.9,1116.6 1025.2,1121.3 1026.6,1126.2 1027.9,1131.5 1029.2,1137.3 1030.5,1143.5 1031.8,1149.9 1033.2,1156.5 1034.5,1163.1 1035.8,1169.7 1037.2,1176.0 1038.5,1181.9 1039.9,1187.6 1041.2,1193.3 1042.6,1199.0 1043.9,1204.7 1045.3,1210.3 1046.7,1215.6 1048.0,1220.7 1049.4,1225.5 1050.8,1229.8 1052.2,1233.5 1053.6,1236.7 1055.0,1239.8 1056.4,1242.8 1057.8,1245.6 1059.2,1248.3 1060.6,1250.8 1062.0,1253.2 1063.4,1255.4 1064.8,1257.4 1066.3,1259.2 1067.7,1260.9 1069.1,1262.3 1070.6,1263.5 1072.0,1264.5 1073.5,1265.5 1074.9,1266.4 1076.4,1267.2 1077.9,1268.0 1079.3,1268.7 1080.8,1269.4 1082.3,1270.0 1083.8,1270.6 1085.2,1271.2 1086.7,1271.8 1088.2,1272.4 1089.7,1273.0 1091.2,1273.6 1092.7,1274.3 1094.3,1275.0 1095.8,1275.8 1097.3,1276.6 1098.8,1277.5 1100.4,1278.4 1101.9,1279.4 1103.5,1280.3 1105.0,1281.3 1106.6,1282.3 1108.1,1283.3 1109.7,1284.4 1111.2,1285.6 1112.8,1286.7 1114.4,1288.0 1116.0,1289.3 1117.6,1290.7 1119.2,1292.2 1120.8,1293.8 1122.4,1295.5 1124.0,1297.5 1125.6,1299.7 1127.2,1302.1 1128.8,1304.7 1130.5,1307.4 1132.1,1310.2 1133.8,1313.1 1135.4,1316.1 1137.1,1319.0 1138.7,1322.0 1140.4,1324.9 1142.0,1327.8 1143.7,1330.9 1145.4,1334.2 1147.1,1337.6 1148.8,1341.0 1150.5,1344.4 1152.2,1347.8 1153.9,1351.0 1155.6,1354.1 1157.3,1356.9 1159.1,1359.4 1160.8,1361.6 1162.5,1363.7 1164.3,1365.6 1166.0,1367.5 1167.8,1369.2 1169.5,1370.9 1171.3,1372.4 1173.1,1374.0 1174.9,1375.5 1176.6,1376.9 1178.4,1378.2 1180.2,1379.5 1182.0,1380.6 1183.8,1381.8 1185.7,1382.9 1187.5,1384.0 1189.3,1385.1 1191.1,1386.3 1193.0,1387.6 1194.8,1389.0 1196.7,1390.6 1198.5,1392.5 1200.4,1394.5 1202.3,1396.8 1204.2,1399.2 1206.1,1401.6 1208.0,1403.9 1209.9,1406.2 1211.8,1408.2 1213.7,1410.0 1215.6,1411.4 1217.5,1412.9 1219.5,1414.4 1221.4,1415.9 1223.4,1417.3 1225.3,1418.6 1227.3,1419.8 1229.2,1420.9 1231.2,1421.8 1233.2,1422.5 1235.2,1422.9 1237.2,1423.0 1239.2,1423.0 1241.2,1423.0 1243.2,1423.0 1245.3,1423.0 1247.3,1423.0 1249.3,1423.0 1251.4,1423.0 1253.4,1423.0 1255.5,1423.0 1257.6,1423.0 1259.7,1423.0 1261.7,1423.0 1263.8,1423.0 1265.9,1423.0 1268.1,1422.8 1270.2,1422.3 1272.3,1421.7 1274.4,1421.0 1276.6,1420.2 1278.7,1419.3 1280.9,1418.3 1283.1,1417.4 1285.2,1416.6 1287.4,1415.8 1289.6,1415.1 1291.8,1414.5 1294.0,1413.9 1296.2,1413.3 1298.5,1412.6 1300.7,1412.0 1302.9,1411.5 1305.2,1411.1 1307.5,1410.8 1309.7,1410.6 1312.0,1410.7 1314.3,1411.2 1316.6,1412.1 1318.9,1413.2 1321.2,1414.6 1323.5,1416.2 1325.9,1417.8 1328.2,1419.5 1330.6,1421.1 1332.9,1423.1 1335.3,1425.4 1337.7,1427.9 1340.0,1430.6 1342.4,1433.3 1344.9,1436.0 1347.3,1438.5 1349.7,1440.8 1352.1,1442.8 1354.6,1444.6 1357.0,1446.5 1359.5,1448.3 1362.0,1450.0 1364.5,1451.7 1366.9,1453.2 1369.5,1454.5 1372.0,1455.5 1374.5,1456.3 1377.0,1457.0 1379.6,1457.5 1382.1,1458.0 1384.7,1458.4 1387.3,1458.8 1389.9,1459.2 1392.5,1459.5 1395.1,1459.8 1397.7,1460.0 1400.3,1460.2 1403.0,1460.4 1405.6,1460.6 1408.3,1460.7 1411.0,1460.8 1413.7,1460.9 1416.4,1461.0 1419.1,1461.2 1421.8,1461.3 1424.5,1461.4 1427.3,1461.6 1430.0,1461.8 1432.8,1462.1 1435.6,1462.4 1438.4,1462.9 1441.2,1463.5 1444.0,1464.1 1446.8,1464.8 1449.6,1465.6 1452.5,1466.4 1455.4,1467.2 1458.2,1468.0 1461.1,1468.8 1464.0,1469.5 1466.9,1470.2 1469.9,1470.9 1472.8,1471.7 1475.8,1472.4 1478.7,1473.2 1481.7,1474.0 1484.7,1474.7 1487.7,1475.5 1490.7,1476.2 1493.8,1476.8 1496.8,1477.4 1499.9,1477.9 1502.9,1478.3 1506.0,1478.8 1509.1,1479.2 1512.3,1479.6 1515.4,1479.9 1518.5,1480.3 1521.7,1480.6 1524.9,1480.9 1528.0,1481.2 1531.2,1481.4 1534.5,1481.6 1537.7,1481.7 1540.9,1481.8 1544.2,1481.9 1547.5,1482.0 1550.8,1482.1 1554.1,1482.2 1557.4,1482.3 1560.7,1482.4 1564.1,1482.5 1567.5,1482.6 1570.9,1482.8 1574.3,1483.0 1577.7,1483.3 1581.1,1483.7 1584.6,1484.1 1588.0,1484.5 1591.5,1484.9 1595.0,1485.4 1598.5,1485.8 1602.1,1486.3 1605.6,1486.7 1609.2,1487.2 1612.8,1487.7 1616.4,1488.3 1620.0,1488.8 1623.6,1489.4 1627.3,1490.0 1631.0,1490.6 1634.7,1491.2 1638.4,1491.8 1642.1,1492.4 1645.9,1493.0 1649.6,1493.5 1653.4,1494.1 1657.2,1494.6 1661.0,1495.0 1664.9,1495.5 1668.7,1495.8 1672.6,1496.2 1676.5,1496.5 1680.4,1496.8 1684.4,1497.1 1688.3,1497.4 1692.3,1497.6 1696.3,1497.9 1700.3,1498.2 1704.4,1498.4 1708.5,1498.7 1712.5,1498.9 1716.6,1499.2 1720.8,1499.4 1724.9,1499.6 1729.1,1499.8 1733.3,1500.0 1737.5,1500.2 1741.7,1500.4 1746.0,1500.5 1750.3,1500.7 1754.6,1500.8 1758.9,1500.9 1763.3,1501.1 1767.6,1501.2 1772.0,1501.3 1776.5,1501.4 1780.9,1501.5 1785.4,1501.6 1789.9,1501.7 1794.4,1501.7 1798.9,1501.8 1803.5,1501.9 1808.1,1502.0 1812.7,1502.0 1817.4,1502.1 1822.0,1502.2 1826.7,1502.3 1831.5,1502.3 1836.2,1502.4 1841.0,1502.5 1845.8,1502.5 1850.6,1502.6 1855.5,1502.6 1860.3,1502.7 1865.3,1502.8 1870.2,1502.8 1875.2,1502.9 1880.2,1503.0 1885.2,1503.0 1890.2,1503.1 1895.3,1503.2 1900.4,1503.3 1905.6,1503.3 1910.8,1503.4 1916.0,1503.5 1921.2,1503.5 1926.5,1503.6 1931.8,1503.7 1937.1,1503.8 1942.4,1503.8 1947.8,1503.9 1953.2,1504.0 1958.7,1504.1 1964.2,1504.1 1969.7,1504.2 1975.3,1504.3 1980.9,1504.4 1986.5,1504.4 1992.1,1504.5 1997.8,1504.6 2003.6,1504.6 2009.3,1504.7 2015.1,1504.8 2020.9,1504.9 2026.8,1504.9 2032.7,1505.0 2038.7,1505.1 2044.6,1505.2 2050.7,1505.2 2056.7,1505.3 2062.8,1505.4 2068.9,1505.5 2075.1,1505.5 2081.3,1505.6 2087.6,1505.7 2093.9,1505.7 2100.2,1505.8 2106.6,1505.9 2113.0,1506.0 2119.4,1506.0 2125.9,1506.1 2132.5,1506.2 2139.1,1506.2 2145.7,1506.3 2152.4,1506.4 2159.1,1506.4 2165.8,1506.5 2172.6,1506.6 2179.5,1506.6 2186.4,1506.7 2193.3,1506.8 2200.3,1506.8 2207.4,1506.9 2214.5,1506.9 2221.6,1507.0"/>
<polyline stroke="#808000" marker-start="url(#m3)" marker-mid="url(#m3)" marker-end="url(#m3)" points="256.0,1510.0 257.1,1509.6 258.1,1509.2 259.1,1508.8 260.2,1508.4 261.2,1508.0 262.3,1507.6 263.3,1507.2 264.4,1506.8 265.4,1506.5 266.5,1506.1 267.6,1505.8 268.6,1505.4 269.7,1505.1 270.8,1504.8 271.9,1504.6 272.9,1504.3 274.1,1504.1 275.1,1504.0 276.3,1503.8 277.3,1503.7 278.5,1503.6 279.6,1503.4 280.7,1503.3 281.8,1503.2 282.9,1503.1 284.0,1503.0 285.1,1502.9 286.3,1502.8 287.4,1502.7 288.5,1502.7 289.6,1502.6 290.7,1502.5 291.8,1502.4 293.0,1502.4 294.1,1502.3 295.2,1502.3 296.3,1502.2 297.5,1502.2 298.6,1502.1 299.7,1502.1 300.8,1502.0 301.9,1502.0 303.1,1501.9 304.2,1501.9 305.3,1501.9 306.4,1501.8 307.6,1501.8 308.7,1501.7 309.8,1501.7 311.0,1501.6 312.1,1501.6 313.2,1501.6 314.3,1501.5 315.5,1501.5 316.6,1501.4 317.7,1501.4 318.8,1501.3 320.0,1501.2 321.1,1501.2 322.2,1501.1 323.3,1501.0 324.5,1501.0 325.6,1500.9 326.7,1500.8 327.8,1500.7 329.0,1500.6 330.1,1500.5 331.3,1500.4 332.4,1500.3 333.5,1500.2 334.6,1500.0 335.8,1499.9 336.9,1499.7 338.0,1499.6 339.2,1499.4 340.3,1499.3 341.4,1499.1 342.6,1498.9 343.7,1498.5 344.7,1498.0 345.7,1497.5 346.6,1496.8 347.5,1496.1 348.5,1495.4 349.3,1494.7 350.2,1494.0 351.0,1493.2 351.9,1492.5 352.7,1491.7 353.6,1491.0 354.5,1490.4 355.4,1489.7 356.3,1489.0 357.2,1488.2 358.0,1487.5 358.9,1486.7 359.7,1485.9 360.6,1485.1 361.4,1484.3 362.3,1483.5 363.2,1482.8 364.0,1482.1 365.0,1481.4 366.0,1480.8 367.1,1480.4 368.2,1480.1 369.3,1480.0 370.4,1480.0 371.5,1480.1 372.6,1480.1 373.8,1480.2 374.9,1480.3 376.1,1480.5 377.2,1480.6 378.4,1480.7 379.5,1480.8 380.6,1480.9 381.7,1480.9 382.9,1481.0 384.0,1481.0 385.1,1480.6 386.0,1479.9 386.7,1478.9 387.4,1477.9 387.9,1476.8 388.4,1475.6 388.9,1474.6 389.3,1473.4 389.7,1472.1 390.2,1470.8 390.5,1469.7 390.8,1468.6 391.2,1467.4 391.5,1466.2 391.8,1464.9 392.1,1463.5 392.5,1462.1 392.8,1460.7 393.1,1459.2 393.5,1457.6 393.8,1456.0 394.0,1454.9 394.3,1453.8 394.5,1452.7 394.7,1451.5 394.9,1450.3 395.2,1449.0 395.4,1447.0 395.5,1445.8 395.6,1444.5 395.7,1443.0 395.8,1441.5 396.0,1439.8 396.1,1438.1 396.2,1436.3 396.3,1434.4 396.4,1432.5 396.5,1430.5 396.6,1428.5 396.8,1426.5 396.9,1424.4 397.0,1422.4 397.1,1420.3 397.2,1418.3 397.3,1416.3 397.4,1414.3 397.6,1412.4 397.7,1410.5 397.8,1408.8 397.9,1407.0 398.0,1405.4 398.1,1403.9 398.3,1402.5 398.4,1401.3 398.5,1400.1 398.7,1398.0 399.0,1395.9 399.2,1393.7 399.4,1391.6 399.7,1389.5 399.9,1387.5 400.1,1385.6 400.4,1383.8 400.6,1382.1 400.8,1380.7 401.1,1379.4 401.4,1378.0 402.0,1377.0 403.2,1377.2 404.3,1377.8 405.3,1378.6 406.1,1379.4 407.0,1380.3 407.7,1381.2 408.5,1382.0 409.2,1382.9 410.0,1383.8 410.7,1384.7 411.5,1385.5 412.4,1386.4 413.2,1387.3 414.0,1388.2 414.7,1389.2 415.5,1390.3 416.3,1391.3 417.1,1392.3 417.9,1393.3 418.7,1394.2 419.7,1395.0 420.6,1395.6 421.7,1396.0 422.8,1395.8 423.8,1395.3 424.6,1394.4 425.3,1393.5 426.0,1392.4 426.6,1391.3 427.2,1390.2 427.7,1388.9 428.3,1387.6 428.7,1386.5 429.2,1385.3 429.6,1384.2 430.0,1382.9 430.5,1381.6 430.9,1380.3 431.3,1378.8 431.6,1377.4 431.9,1375.9 432.2,1374.1 432.5,1372.2 432.8,1370.1 433.0,1368.9 433.1,1367.8 433.3,1366.5 433.4,1365.3 433.6,1364.0 433.7,1362.7 433.9,1361.4 434.0,1360.0 434.2,1358.6 434.3,1357.1 434.5,1355.7 434.6,1354.2 434.8,1352.7 434.9,1351.2 435.1,1349.6 435.2,1348.1 435.4,1346.5 435.5,1345.0 435.7,1343.3 435.8,1341.6 436.0,1339.8 436.1,1337.9 436.3,1335.9 436.4,1333.8 436.6,1331.7 436.7,1329.5 436.9,1327.2 437.0,1324.9 437.2,1322.5 437.3,1320.0 437.5,1317.5 437.6,1315.0 437.8,1312.4 437.9,1309.8 438.1,1307.2 438.2,1304.5 438.4,1301.9 438.5,1299.2 438.7,1296.2 438.9,1293.0 439.0,1289.6 439.2,1286.1 439.3,1282.7 439.5,1279.3 439.6,1276.2 439.8,1273.3 439.9,1270.9 440.1,1268.9 440.2,1266.8 440.4,1264.9 440.6,1263.0 440.7,1261.2 440.9,1259.6 441.0,1258.2 441.3,1256.4 442.3,1255.5 443.4,1255.1 444.5,1254.9 445.6,1254.7 446.7,1254.6 447.9,1254.4 449.0,1254.1 450.0,1253.5 450.4,1252.4 450.7,1250.1 450.9,1248.6 451.0,1246.9 451.2,1245.0 451.4,1243.1 451.5,1241.0 451.7,1238.9 451.9,1236.8 452.0,1234.8 452.2,1232.3 452.4,1229.1 452.5,1225.6 452.7,1222.0 452.9,1218.4 453.0,1215.2 453.2,1212.6 453.4,1210.7 453.7,1209.5 454.4,1208.4 455.6,1208.4 456.1,1209.4 456.3,1211.7 456.4,1215.4 456.6,1220.2 456.8,1225.4 457.0,1230.8 457.1,1235.8 457.3,1239.9 457.5,1243.5 457.6,1247.0 457.8,1250.5 458.0,1253.9 458.2,1257.2 458.3,1260.4 458.5,1263.3 458.7,1266.0 458.9,1268.3 459.0,1270.4 459.2,1272.3 459.4,1274.2 459.6,1276.0 459.7,1277.7 459.9,1279.3 460.1,1280.8 460.3,1282.2 460.4,1283.4 460.8,1285.3 461.1,1286.4 461.7,1287.7 462.2,1288.8 462.9,1289.7 464.2,1289.8 465.1,1289.2 465.8,1288.3 466.4,1286.7 466.6,1285.5 466.7,1284.0 466.9,1282.2 467.1,1280.2 467.3,1278.0 467.5,1275.6 467.7,1273.0 467.8,1270.4 468.0,1267.7 468.2,1264.4 468.4,1260.4 468.6,1255.7 468.8,1250.7 468.9,1245.3 469.1,1239.8 469.3,1234.4 469.5,1228.8 469.7,1222.8 469.9,1216.6 470.1,1210.1 470.3,1203.6 470.4,1196.9 470.6,1189.7 470.8,1182.2 471.0,1174.7 471.2,1167.3 471.4,1160.3 471.6,1153.9 471.8,1148.4 471.9,1143.1 472.1,1137.8 472.3,1132.5 472.5,1127.4 472.7,1122.5 472.9,1117.9 473.1,1113.7 473.3,1109.8 473.5,1106.4 473.7,1103.5 473.8,1101.3 474.0,1099.7 474.2,1098.4 474.4,1097.2 474.6,1096.1 475.0,1094.1 475.4,1092.6 476.0,1091.5 477.1,1091.2 478.3,1091.0 479.5,1091.1 480.5,1092.1 481.3,1093.3 481.9,1094.3 482.5,1095.5 483.1,1096.6 483.7,1097.5 484.5,1098.7 485.1,1099.7 485.7,1100.7 486.3,1101.6 487.2,1102.6 488.4,1102.9 489.2,1101.9 489.9,1100.7 490.3,1099.7 490.7,1098.5 491.1,1097.2 491.5,1095.9 492.0,1093.9 492.2,1092.6 492.4,1091.0 492.6,1089.2 492.8,1087.3 493.0,1085.1 493.2,1082.7 493.5,1080.2 493.7,1077.5 493.9,1074.6 494.1,1071.6 494.3,1068.5 494.5,1065.2 494.7,1061.8 495.0,1058.4 495.2,1054.8 495.4,1051.2 495.6,1047.4 495.8,1043.7 496.0,1039.8 496.3,1036.0 496.5,1032.1 496.7,1028.2 496.9,1024.3 497.1,1020.5 497.3,1016.6 497.6,1012.8 497.8,1009.0 498.0,1005.3 498.2,1001.6 498.4,998.0 498.7,994.5 498.9,991.0 499.1,987.5 499.3,984.0 499.5,980.5 499.8,976.9 500.0,973.3 500.2,969.7 500.4,966.0 500.6,962.3 500.9,958.5 501.1,954.7 501.3,950.8 501.5,946.9 501.8,942.9 502.0,938.8 502.2,934.6 502.4,930.4 502.7,926.1 502.9,921.6 503.1,917.1 503.3,912.4 503.6,907.7 503.8,902.8 504.0,897.8 504.2,892.5 504.5,886.7 504.7,880.5 504.9,874.0 505.1,867.3 505.4,860.3 505.6,853.3 505.8,846.2 506.1,839.1 506.3,832.0 506.5,825.1 506.7,818.5 507.0,812.1 507.2,806.1 507.4,800.4 507.7,795.2 507.9,789.9 508.1,784.8 508.4,779.8 508.6,775.0 508.8,770.5 509.1,766.4 509.3,762.8 509.5,759.7 509.8,756.8 510.0,754.1 510.2,751.4 510.5,749.0 510.7,746.8 510.9,744.9 511.2,743.4 511.6,741.7 512.1,740.6 512.8,739.4 513.5,738.5 514.5,737.5 515.4,736.6 516.4,735.5 517.1,734.5 517.9,733.5 518.6,732.5 519.3,731.6 520.3,730.6 521.3,730.1 522.3,732.2 522.6,734.2 522.8,736.7 523.1,739.7 523.3,743.0 523.6,746.6 523.8,750.5 524.1,754.4 524.3,758.4 524.6,762.3 524.8,766.1 525.1,769.7 525.3,773.0 525.6,776.0 525.8,779.2 526.1,782.6 526.3,786.2 526.6,789.9 526.8,793.6 527.1,797.5 527.4,801.4 527.6,805.3 527.9,809.2 528.1,813.0 528.4,816.8 528.6,820.5 528.9,824.0 529.1,827.3 529.4,830.5 529.7,833.4 529.9,836.1 530.2,838.5 530.4,840.6 530.7,842.3 531.0,843.6 531.5,845.0 532.3,843.5 532.5,842.2 532.8,840.5 533.1,838.5 533.3,836.2 533.6,833.5 533.9,830.6 534.1,827.4 534.4,824.1 534.6,820.5 534.9,816.8 535.2,812.9 535.4,808.9 535.7,804.9 536.0,800.8 536.2,796.7 536.5,792.6 536.8,788.6 537.0,784.6 537.3,780.7 537.6,776.9 537.9,773.3 538.1,769.7 538.4,766.1 538.7,762.4 538.9,758.6 539.2,754.7 539.5,750.8 539.7,746.7 540.0,742.6 540.3,738.3 540.6,734.0 540.8,729.5 541.1,724.8 541.4,720.0 541.7,714.8 541.9,708.3 542.2,700.8 542.5,692.9 542.8,685.0 543.0,677.7 543.3,671.5 543.6,666.8 543.9,664.3 545.0,665.1 545.5,666.5 546.1,668.4 546.7,670.6 546.9,671.7 547.2,672.9 547.5,674.1 547.8,675.3 548.1,676.5 548.4,677.7 548.6,678.7 549.2,680.7 549.8,682.6 550.4,684.4 550.9,686.2 551.5,688.0 552.1,689.8 552.7,691.7 553.2,693.6 553.8,695.6 554.1,696.7 554.4,697.8 554.7,698.9 555.0,700.1 555.3,701.3 555.6,702.6 555.9,703.9 556.2,705.3 556.5,706.9 556.8,708.8 557.1,710.9 557.3,713.1 557.6,715.6 557.9,718.1 558.2,720.7 558.5,723.4 558.8,726.2 559.1,728.9 559.4,731.6 559.7,734.3 560.0,736.9 560.3,739.4 560.6,741.8 560.9,744.0 561.2,746.0 561.5,747.7 561.8,749.2 562.1,750.4 562.7,751.9 564.0,751.9 565.2,751.5 566.4,750.9 567.7,750.2 568.9,749.5 570.2,749.0 571.4,748.6 572.7,748.8 573.6,749.9 574.3,751.1 574.9,752.5 575.6,754.2 576.2,756.1 576.9,758.2 577.2,759.2 577.5,760.3 577.8,761.5 578.2,762.6 578.5,763.8 578.8,764.9 579.1,766.0 579.5,767.2 579.8,768.3 580.1,769.4 580.4,770.5 581.1,772.5 581.8,774.4 582.4,776.1 583.1,778.0 583.8,780.1 584.1,781.1 584.4,782.2 584.8,783.3 585.1,784.4 585.4,785.5 585.8,786.5 586.1,787.6 586.5,788.7 587.1,790.7 587.8,792.6 588.5,794.3 589.2,795.8 589.9,797.0 590.9,798.2 592.3,797.7 593.0,795.9 593.3,794.5 593.7,792.9 594.0,791.2 594.4,789.2 594.7,787.1 595.1,784.9 595.4,782.6 595.8,780.3 596.1,777.9 596.5,775.5 596.8,773.1 597.2,770.8 597.5,768.2 597.9,765.4 598.2,762.3 598.6,759.1 599.0,755.7 599.3,752.1 599.7,748.5 600.0,744.9 600.4,741.2 600.7,737.5 601.1,733.9 601.5,730.2 601.8,726.4 602.2,722.5 602.6,718.5 602.9,714.5 603.3,710.5 603.6,706.4 604.0,702.4 604.4,698.4 604.7,694.5 605.1,690.9 605.5,687.4 605.8,683.7 606.2,679.8 606.6,675.2 606.9,669.7 607.3,662.8 607.7,654.5 608.1,645.1 608.4,635.0 608.8,624.4 609.2,613.7 609.5,603.2 609.9,593.1 610.3,583.6 610.7,574.0 611.0,564.5 611.4,554.9 611.8,545.2 612.2,535.5 612.5,525.8 612.9,516.0 613.3,506.1 613.7,496.0 614.1,485.2 614.4,474.0 614.8,462.5 615.2,451.2 615.6,440.3 616.0,430.1 616.4,420.9 616.7,413.0 617.1,406.4 617.5,400.2 617.9,394.6 618.3,389.3 618.7,384.4 619.1,379.8 619.5,375.3 619.8,370.9 620.2,366.7 620.6,362.1 621.0,357.2 621.4,352.3 621.8,347.6 622.2,343.3 622.6,339.8 623.0,337.3 623.4,336.1 624.6,336.0 625.8,336.0 627.0,336.0 628.2,336.2 628.6,338.6 629.0,343.1 629.4,349.4 629.8,356.9 630.2,365.1 630.6,373.7 631.0,382.0 631.4,389.6 631.8,397.1 632.2,405.1 632.6,413.5 633.0,422.2 633.5,431.0 633.9,439.8 634.3,448.5 634.7,457.0 635.1,465.1 635.5,472.7 635.9,479.6 636.4,486.1 636.8,492.3 637.2,498.3 637.6,504.0 638.0,509.5 638.4,514.8 638.9,519.9 639.3,524.7 639.7,529.9 640.1,535.4 640.6,540.9 641.0,546.1 641.4,550.6 641.8,554.2 642.3,556.4 643.5,554.9 644.0,552.8 644.4,550.3 644.8,547.7 645.3,545.0 645.7,542.5 646.1,540.5 646.6,538.5 647.0,536.6 647.4,534.6 647.9,532.7 648.3,530.8 648.7,528.9 649.2,527.1 649.6,525.2 650.0,523.4 650.5,521.7 650.9,519.9 651.4,518.2 651.8,516.5 652.3,514.8 652.7,513.1 653.1,511.5 653.6,509.9 654.0,508.3 654.5,506.7 654.9,505.2 655.4,503.8 655.8,502.4 656.3,501.0 656.7,499.6 657.2,498.3 657.6,497.0 658.1,495.7 658.5,494.4 659.0,493.1 659.4,491.9 659.9,490.8 660.8,488.9 661.7,486.8 662.2,485.3 662.6,483.2 663.1,479.3 663.6,473.6 664.0,466.5 664.5,458.7 665.0,450.6 665.4,441.4 665.9,430.2 666.4,419.1 666.8,409.6 667.3,401.1 667.8,393.2 668.2,385.8 668.7,378.9 669.2,372.6 669.7,366.8 670.1,361.3 670.6,356.1 671.1,351.1 671.6,346.3 672.0,341.7 672.5,337.1 673.0,332.7 673.5,328.4 674.0,324.2 674.4,320.1 674.9,316.1 675.4,312.2 675.9,308.4 676.4,304.7 676.9,301.1 677.3,297.6 677.8,294.2 678.3,290.9 678.8,287.6 679.3,284.5 679.8,281.4 680.3,278.4 680.8,275.4 681.3,272.4 681.8,269.4 682.3,266.4 682.7,263.0 683.2,259.3 683.7,255.7 684.2,252.5 684.7,250.1 685.2,248.7 686.7,248.5 688.3,248.5 689.3,253.3 689.8,260.5 690.3,269.7 690.8,279.9 691.3,290.0 691.8,299.2 692.3,309.0 692.9,319.4 693.4,330.4 693.9,341.5 694.4,352.7 694.9,363.6 695.5,374.1 696.0,384.3 696.5,394.6 697.0,405.0 697.5,415.9 698.1,427.4 698.6,440.1 699.1,453.8 699.6,468.0 700.2,482.3 700.7,496.1 701.2,509.1 701.8,520.9 702.3,531.9 702.8,542.4 703.4,552.7 703.9,563.0 704.4,573.6 705.0,585.0 705.5,597.2 706.0,609.3 706.6,620.5 707.1,629.9 707.7,637.4 708.2,644.1 708.8,650.2 709.3,655.8 709.8,661.1 710.4,666.3 710.9,671.5 711.5,676.9 712.0,682.7 712.6,688.7 713.1,694.8 713.7,700.9 714.3,706.7 714.8,712.2 715.4,717.2 715.9,721.5 716.5,725.4 717.0,729.3 717.6,733.2 718.2,736.8 718.7,740.0 719.3,742.5 719.9,744.3 721.0,744.9 722.1,743.6 722.7,742.5 723.3,741.2 723.8,739.6 724.4,737.8 725.0,735.8 725.6,733.6 726.2,731.3 726.7,729.0 727.3,726.5 727.9,724.0 728.5,721.5 729.1,718.9 729.6,716.5 730.2,714.1 730.8,711.6 731.4,709.0 732.0,706.3 732.6,703.5 733.2,700.4 733.8,697.3 734.4,693.9 735.0,690.3 735.6,686.4 736.1,682.3 736.7,677.9 737.3,673.1 737.9,667.2 738.5,660.5 739.2,653.1 739.8,645.5 740.4,637.8 741.0,630.4 741.6,623.5 742.2,616.9 742.8,610.3 743.4,603.4 744.0,595.9 744.6,587.5 745.2,577.4 745.9,562.5 746.5,547.6 747.1,539.2 747.7,534.8 748.3,531.1 749.0,527.8 749.6,525.1 750.2,522.8 750.8,520.7 751.5,518.9 752.1,517.3 752.7,515.7 753.4,514.1 754.0,512.6 754.6,511.2 755.3,510.0 755.9,508.8 756.5,507.6 757.2,506.6 757.8,505.6 758.5,504.6 759.1,503.7 760.4,502.0 761.7,500.3 763.0,498.5 763.6,497.6 764.3,496.6 765.0,495.6 765.6,494.6 766.3,493.4 766.9,492.2 767.6,490.9 768.3,489.4 768.9,487.5 769.6,485.3 770.3,482.9 770.9,480.3 771.6,477.8 772.3,475.4 772.9,473.3 773.6,471.6 774.3,470.4 775.6,470.3 777.0,472.5 777.7,474.1 778.4,476.1 779.0,478.1 779.7,480.6 780.4,483.8 781.1,487.8 781.8,492.7 782.5,498.5 783.2,505.5 783.9,515.2 784.6,533.5 785.3,555.4 786.0,574.5 786.7,589.3 787.4,603.1 788.1,616.2 788.8,628.6 789.5,640.5 790.2,651.9 790.9,663.1 791.6,674.0 792.3,684.8 793.1,695.7 793.8,706.7 794.5,718.0 795.2,729.7 795.9,742.0 796.7,754.9 797.4,768.7 798.1,784.2 798.8,802.1 799.6,821.1 800.3,839.6 801.0,856.1 801.8,868.9 802.5,877.7 803.2,885.6 804.0,893.0 804.7,899.7 805.5,906.0 806.2,911.8 806.9,917.3 807.7,922.4 808.4,927.1 809.2,931.7 809.9,936.1 810.7,940.3 811.5,944.4 812.2,948.6 813.0,952.8 813.7,957.0 814.5,961.5 815.3,966.1 816.0,971.1 816.8,976.3 817.6,981.7 818.3,987.2 819.1,992.8 819.9,998.4 820.6,1004.0 821.4,1009.5 822.2,1015.0 823.0,1020.5 823.8,1025.8 824.6,1031.0 825.3,1036.0 826.1,1040.8 826.9,1045.9 827.7,1051.3 828.5,1057.0 829.3,1062.6 830.1,1068.1 830.9,1073.3 831.7,1077.9 832.5,1081.7 833.3,1084.7 834.1,1086.5 835.7,1086.3 836.5,1084.6 837.4,1082.2 838.2,1079.2 839.0,1076.0 839.8,1072.6 840.6,1069.4 841.5,1066.2 842.3,1062.5 843.1,1058.3 843.9,1054.1 844.8,1049.9 845.6,1046.3 846.4,1043.4 847.3,1041.5 848.1,1039.9 849.0,1038.4 849.8,1037.0 850.6,1035.7 851.5,1034.6 852.3,1033.7 853.2,1033.0 854.9,1032.4 856.6,1032.4 858.3,1032.4 860.1,1032.4 861.8,1032.4 863.6,1032.9 864.4,1033.9 865.3,1034.7 867.1,1034.2 868.0,1032.6 868.9,1030.3 869.8,1027.5 870.6,1024.5 871.5,1021.5 872.4,1018.5 873.3,1015.1 874.2,1011.3 875.1,1007.1 876.1,1002.9 877.0,998.6 877.9,994.6 878.8,990.6 879.7,986.3 880.6,982.0 881.5,977.8 882.5,973.7 883.4,970.1 884.3,966.9 885.2,964.4 886.2,962.1 887.1,959.9 888.0,957.8 889.0,956.1 889.9,954.8 890.9,954.1 892.7,955.5 893.7,957.7 894.6,960.5 895.6,963.7 896.6,967.2 897.5,972.6 898.5,979.1 899.4,985.7 900.4,991.4 901.4,995.3 902.3,998.6 903.3,1001.5 904.3,1004.1 905.3,1006.5 906.3,1008.6 907.2,1010.6 908.2,1012.4 909.2,1014.2 910.2,1016.1 911.2,1017.8 912.2,1019.5 913.2,1020.9 914.2,1022.0 915.2,1022.6 917.2,1022.1 918.2,1020.7 919.2,1018.6 920.3,1016.0 921.3,1013.1 922.3,1010.0 923.3,1006.9 924.3,1004.0 925.4,1000.4 926.4,996.3 927.4,991.9 928.5,987.7 929.5,983.9 930.6,980.9 931.6,978.9 932.7,977.0 933.7,975.2 934.8,973.7 935.8,972.4 936.9,971.5 937.9,971.0 940.1,971.6 941.2,972.4 942.2,973.4 943.3,974.7 944.4,976.0 945.5,977.3 946.6,978.7 947.6,980.4 948.7,982.3 949.8,984.5 950.9,986.8 952.0,989.2 953.1,991.6 954.2,993.9 955.3,996.0 956.5,997.9 957.6,999.6 958.7,1001.1 959.8,1002.5 960.9,1003.8 962.1,1005.0 963.2,1006.1 964.3,1007.2 965.5,1008.4 966.6,1009.5 967.7,1010.7 968.9,1012.0 970.0,1013.5 971.2,1015.0 972.4,1016.8 973.5,1018.8 974.7,1021.0 975.8,1023.6 977.0,1027.5 978.2,1032.8 979.4,1039.3 980.5,1046.3 981.7,1053.6 982.9,1060.6 984.1,1066.9 985.3,1072.1 986.5,1076.7 987.7,1081.0 988.9,1085.2 990.1,1089.2 991.3,1093.0 992.5,1096.7 993.7,1100.3 994.9,1103.9 996.1,1107.4 997.4,1110.9 998.6,1114.4 999.8,1117.8 1001.1,1121.2 1002.3,1124.5 1003.6,1127.7 1004.8,1130.7 1006.1,1133.7 1007.3,1136.5 1008.6,1139.2 1009.8,1142.3 1011.1,1145.3 1012.4,1147.7 1013.6,1148.9 1014.9,1149.0 1016.2,1148.9 1017.5,1148.8 1018.8,1148.6 1020.0,1148.4 1021.3,1148.1 1022.6,1147.9 1023.9,1147.6 1025.2,1147.4 1026.6,1147.2 1027.9,1147.1 1029.2,1147.0 1030.5,1147.0 1031.8,1147.2 1033.2,1147.7 1034.5,1148.4 1035.8,1149.2 1037.2,1150.1 1038.5,1151.8 1039.9,1154.4 1041.2,1157.8 1042.6,1162.1 1043.9,1169.2 1045.3,1177.6 1046.7,1184.7 1048.0,1190.6 1049.4,1196.4 1050.8,1201.9 1052.2,1207.3 1053.6,1212.4 1055.0,1217.3 1056.4,1221.9 1057.8,1226.2 1059.2,1230.2 1060.6,1234.0 1062.0,1237.4 1063.4,1240.6 1064.8,1243.7 1066.3,1246.6 1067.7,1249.4 1069.1,1252.1 1070.6,1254.6 1072.0,1257.1 1073.5,1259.5 1074.9,1261.8 1076.4,1264.1 1077.9,1266.4 1079.3,1268.6 1080.8,1270.7 1082.3,1272.6 1083.8,1274.4 1085.2,1276.2 1086.7,1277.8 1088.2,1279.5 1089.7,1281.3 1091.2,1283.1 1092.7,1285.0 1094.3,1287.0 1095.8,1289.3 1097.3,1291.8 1098.8,1294.6 1100.4,1297.9 1101.9,1301.7 1103.5,1305.8 1105.0,1310.3 1106.6,1314.9 1108.1,1319.6 1109.7,1324.4 1111.2,1329.0 1112.8,1333.5 1114.4,1337.9 1116.0,1342.4 1117.6,1346.9 1119.2,1351.5 1120.8,1356.0 1122.4,1360.6 1124.0,1365.0 1125.6,1369.4 1127.2,1373.7 1128.8,1377.9 1130.5,1382.0 1132.1,1386.1 1133.8,1390.1 1135.4,1394.0 1137.1,1397.8 1138.7,1401.4 1140.4,1404.8 1142.0,1408.0 1143.7,1411.0 1145.4,1414.0 1147.1,1416.9 1148.8,1419.7 1150.5,1422.3 1151.6,1424.0 1152.8,1425.6 1153.9,1427.2 1155.0,1428.7 1156.2,1430.1 1157.3,1431.4 1158.5,1432.6 1159.6,1433.9 1160.8,1435.1 1161.9,1436.3 1163.1,1437.5 1164.3,1438.6 1165.4,1439.7 1166.6,1440.7 1167.8,1441.7 1168.9,1442.6 1170.1,1443.4 1171.3,1444.1 1172.5,1444.8 1173.7,1445.3 1174.9,1445.8 1176.0,1446.3 1177.2,1446.8 1178.4,1447.3 1179.6,1447.7 1180.8,1448.1 1182.0,1448.5 1183.2,1448.8 1184.4,1449.2 1185.7,1449.5 1186.9,1449.8 1188.1,1450.1 1189.3,1450.3 1190.5,1450.5 1191.8,1450.7 1193.0,1450.9 1194.2,1451.1 1195.5,1451.2 1196.7,1451.3 1197.9,1451.4 1199.2,1451.5 1200.4,1451.6 1201.7,1451.7 1202.9,1451.8 1204.2,1451.9 1205.4,1452.0 1206.7,1452.1 1208.0,1452.2 1209.2,1452.3 1210.5,1452.4 1211.8,1452.6 1213.0,1452.8 1214.3,1453.0 1215.6,1453.2 1216.9,1453.5 1218.2,1453.9 1219.5,1454.4 1220.8,1454.9 1222.1,1455.5 1223.4,1456.1 1224.7,1456.7 1226.0,1457.4 1227.3,1458.1 1228.6,1458.8 1229.9,1459.5 1231.2,1460.2 1232.5,1460.9 1233.9,1461.5 1235.2,1462.2 1236.5,1463.0 1237.9,1463.8 1239.2,1464.6 1240.5,1465.4 1241.9,1466.2 1243.2,1467.1 1244.6,1467.9 1245.9,1468.8 1247.3,1469.7 1248.7,1470.5 1250.0,1471.4 1251.4,1472.2 1252.8,1473.1 1254.1,1473.9 1255.5,1474.7 1256.9,1475.4 1258.3,1476.2 1259.7,1476.8 1261.1,1477.5 1262.4,1478.1 1263.8,1478.8 1265.2,1479.4 1266.7,1480.0 1268.1,1480.6 1269.5,1481.2 1270.9,1481.8 1272.3,1482.4 1273.7,1482.9 1275.2,1483.5 1276.6,1484.0 1278.0,1484.5 1279.5,1484.9 1280.9,1485.4 1282.3,1485.8 1283.8,1486.2 1285.2,1486.6 1286.7,1487.0 1288.2,1487.3 1289.6,1487.7 1291.1,1488.1 1292.6,1488.4 1294.0,1488.7 1295.5,1489.1 1297.0,1489.4 1298.5,1489.7 1300.0,1490.0 1301.5,1490.3 1302.9,1490.6 1304.4,1490.9 1306.0,1491.2 1307.5,1491.4 1309.0,1491.7 1310.5,1491.9 1312.0,1492.2 1313.5,1492.4 1315.1,1492.7 1316.6,1492.9 1318.1,1493.1 1319.7,1493.3 1321.2,1493.5 1322.8,1493.7 1324.3,1493.9 1325.9,1494.1 1327.4,1494.3 1329.0,1494.5 1330.6,1494.7 1332.1,1494.9 1333.7,1495.0 1335.3,1495.2 1336.9,1495.4 1338.5,1495.6 1340.0,1495.7 1341.6,1495.9 1343.2,1496.1 1344.9,1496.2 1346.5,1496.4 1348.1,1496.5 1349.7,1496.7 1351.3,1496.8 1352.9,1497.0 1354.6,1497.1 1356.2,1497.3 1357.9,1497.4 1359.5,1497.6 1361.1,1497.7 1362.8,1497.8 1364.5,1498.0 1366.1,1498.1 1367.8,1498.3 1369.5,1498.4 1371.1,1498.5 1372.8,1498.7 1374.5,1498.8 1376.2,1498.9 1377.9,1499.0 1379.6,1499.2 1381.3,1499.3 1383.0,1499.4 1384.7,1499.6 1386.4,1499.7 1388.1,1499.8 1389.9,1499.9 1391.6,1500.0 1393.3,1500.2 1395.1,1500.3 1396.8,1500.4 1398.6,1500.5 1400.3,1500.6 1402.1,1500.8 1403.9,1500.9 1405.6,1501.0 1407.4,1501.1 1409.2,1501.2 1411.0,1501.3 1412.8,1501.4 1414.6,1501.5 1416.4,1501.6 1418.2,1501.7 1420.0,1501.8 1421.8,1501.9 1423.6,1502.0 1425.4,1502.1 1427.3,1502.2 1429.1,1502.3 1430.9,1502.4 1432.8,1502.5 1434.6,1502.6 1436.5,1502.7 1438.4,1502.8 1440.2,1502.9 1442.1,1503.0 1444.0,1503.0 1445.9,1503.1 1447.7,1503.2 1449.6,1503.3 1451.5,1503.4 1453.4,1503.4 1455.4,1503.5 1457.3,1503.6 1459.2,1503.7 1461.1,1503.7 1463.1,1503.8 1465.0,1503.9 1466.9,1504.0 1468.9,1504.0 1470.9,1504.1 1472.8,1504.2 1474.8,1504.3 1476.8,1504.3 1478.7,1504.4 1480.7,1504.5 1482.7,1504.5 1484.7,1504.6 1486.7,1504.7 1488.7,1504.7 1490.7,1504.8 1492.8,1504.9 1494.8,1504.9 1496.8,1505.0 1498.9,1505.0 1500.9,1505.1 1502.9,1505.2 1505.0,1505.2 1507.1,1505.3 1509.1,1505.4 1511.2,1505.4 1513.3,1505.5 1515.4,1505.5 1517.5,1505.6 1519.6,1505.7 1521.7,1505.7 1523.8,1505.8 1525.9,1505.9 1528.0,1505.9 1530.2,1506.0 1532.3,1506.0 1534.5,1506.1 1536.6,1506.2 1538.8,1506.2 1540.9,1506.3 1543.1,1506.4 1545.3,1506.4 1547.5,1506.5 1549.7,1506.6 1551.9,1506.6 1553.0,1506.6 1554.1,1506.7 1555.2,1506.7 1556.3,1506.7 1557.4,1506.8 1558.5,1506.8 1559.6,1506.9 1560.7,1506.9 1561.9,1506.9 1563.0,1507.0 1564.1,1507.0 1565.2,1507.0 1566.3,1507.1 1567.5,1507.1 1568.6,1507.2 1569.7,1507.2 1570.9,1507.2 1572.0,1507.3 1573.1,1507.3 1574.3,1507.3 1575.4,1507.4 1576.5,1507.4 1577.7,1507.5 1578.8,1507.5 1580.0,1507.5 1581.1,1507.6 1582.3,1507.6 1583.4,1507.6 1584.6,1507.7 1585.7,1507.7 1586.9,1507.7 1588.0,1507.8 1589.2,1507.8 1590.4,1507.8 1591.5,1507.9 1592.7,1507.9 1593.8,1507.9 1595.0,1507.9 1596.2,1508.0 1597.4,1508.0 1598.5,1508.0 1599.7,1508.0 1600.9,1508.0 1602.1,1508.0 1603.3,1508.0 1604.4,1508.0 1605.6,1508.1 1606.8,1508.1 1608.0,1508.1 1609.2,1508.1 1610.4,1508.1 1611.6,1508.1 1612.8,1508.1 1614.0,1508.1 1615.2,1508.1 1616.4,1508.2 1617.6,1508.2 1618.8,1508.2 1620.0,1508.2 1621.2,1508.2 1622.4,1508.2 1623.6,1508.2 1624.9,1508.2 1626.1,1508.2 1627.3,1508.2 1628.5,1508.3 1629.7,1508.3 1631.0,1508.3 1632.2,1508.3 1633.4,1508.3 1634.7,1508.3 1635.9,1508.3 1637.1,1508.3 1638.4,1508.3 1639.6,1508.3 1640.9,1508.4 1642.1,1508.4 1643.4,1508.4 1644.6,1508.4 1645.9,1508.4 1647.1,1508.4 1648.4,1508.4 1649.6,1508.4 1650.9,1508.4 1652.1,1508.4 1653.4,1508.4 1654.7,1508.5 1655.9,1508.5 1657.2,1508.5 1658.5,1508.5 1659.8,1508.5 1661.0,1508.5 1662.3,1508.5 1663.6,1508.5 1664.9,1508.5 1666.2,1508.5 1667.4,1508.5 1668.7,1508.5 1670.0,1508.5 1671.3,1508.6 1672.6,1508.6 1673.9,1508.6 1675.2,1508.6 1676.5,1508.6 1677.8,1508.6 1679.1,1508.6 1680.4,1508.6 1681.8,1508.6 1683.1,1508.6 1684.4,1508.6 1685.7,1508.6 1687.0,1508.6 1688.3,1508.6 1689.7,1508.7 1691.0,1508.7 1692.3,1508.7 1693.7,1508.7 1695.0,1508.7 1696.3,1508.7 1697.7,1508.7 1699.0,1508.7 1700.3,1508.7 1701.7,1508.7 1703.0,1508.7 1704.4,1508.7 1705.7,1508.7 1707.1,1508.7 1708.5,1508.7 1709.8,1508.7 1711.2,1508.7 1712.5,1508.8 1713.9,1508.8 1715.3,1508.8 1716.6,1508.8 1718.0,1508.8 1719.4,1508.8 1720.8,1508.8 1722.2,1508.8 1723.5,1508.8 1724.9,1508.8 1726.3,1508.8 1727.7,1508.8 1729.1,1508.8 1730.5,1508.8 1731.9,1508.8 1733.3,1508.8 1734.7,1508.8 1736.1,1508.8 1737.5,1508.8 1738.9,1508.8 1740.3,1508.9 1741.7,1508.9 1743.2,1508.9 1744.6,1508.9 1746.0,1508.9 1747.4,1508.9 1748.9,1508.9 1750.3,1508.9 1751.7,1508.9 1753.2,1508.9 1754.6,1508.9 1756.0,1508.9 1757.5,1508.9 1758.9,1508.9 1760.4,1508.9 1761.8,1508.9 1763.3,1508.9 1764.7,1508.9 1766.2,1508.9 1767.6,1508.9 1769.1,1508.9 1770.6,1508.9 1772.0,1508.9 1773.5,1508.9 1775.0,1508.9 1776.5,1508.9 1777.9,1509.0 1779.4,1509.0 1780.9,1509.0 1782.4,1509.0 1783.9,1509.0 1785.4,1509.0 1786.9,1509.0 1788.4,1509.0 1789.9,1509.0 1791.4,1509.0 1792.9,1509.0 1794.4,1509.0 1795.9,1509.0 1797.4,1509.0 1798.9,1509.0 1800.5,1509.0 1802.0,1509.0 1803.5,1509.0 1805.0,1509.0 1806.6,1509.0 1808.1,1509.0 1809.6,1509.0 1811.2,1509.0 1812.7,1509.0 1814.3,1509.0 1815.8,1509.0 1817.4,1509.0 1818.9,1509.0 1820.5,1509.0 1822.0,1509.0 1823.6,1509.0 1825.2,1509.1 1826.7,1509.1 1828.3,1509.1 1829.9,1509.1 1831.5,1509.1 1833.0,1509.1 1834.6,1509.1 1836.2,1509.1 1837.8,1509.1 1839.4,1509.1 1841.0,1509.1 1842.6,1509.1 1844.2,1509.1 1845.8,1509.1 1847.4,1509.1 1849.0,1509.1 1850.6,1509.1 1852.2,1509.1 1853.8,1509.1 1855.5,1509.1 1857.1,1509.1 1858.7,1509.1 1860.3,1509.1 1862.0,1509.1 1863.6,1509.1 1865.3,1509.1 1866.9,1509.1 1868.6,1509.1 1870.2,1509.1 1871.9,1509.1 1873.5,1509.1 1875.2,1509.1 1876.8,1509.1 1878.5,1509.2 1880.2,1509.2 1881.8,1509.2 1883.5,1509.2 1885.2,1509.2 1886.9,1509.2 1888.6,1509.2 1890.2,1509.2 1891.9,1509.2 1893.6,1509.2 1895.3,1509.2 1897.0,1509.2 1898.7,1509.2 1900.4,1509.2 1902.2,1509.2 1903.9,1509.2 1905.6,1509.2 1907.3,1509.2 1909.0,1509.2 1910.8,1509.2 1912.5,1509.2 1914.2,1509.2 1916.0,1509.2 1917.7,1509.2 1919.4,1509.2 1921.2,1509.2 1922.9,1509.2 1924.7,1509.2 1926.5,1509.2 1928.2,1509.2 1930.0,1509.2 1931.8,1509.2 1933.5,1509.2 1935.3,1509.3 1937.1,1509.3 1938.9,1509.3 1940.7,1509.3 1942.4,1509.3 1944.2,1509.3 1946.0,1509.3 1947.8,1509.3 1949.6,1509.3 1951.4,1509.3 1953.2,1509.3 1955.1,1509.3 1956.9,1509.3 1958.7,1509.3 1960.5,1509.3 1962.4,1509.3 1964.2,1509.3 1966.0,1509.3 1967.9,1509.3 1969.7,1509.3 1971.6,1509.3 1973.4,1509.3 1975.3,1509.3 1977.1,1509.3 1979.0,1509.3 1980.9,1509.3 1982.7,1509.3 1984.6,1509.3 1986.5,1509.3 1988.4,1509.3 1990.2,1509.3 1992.1,1509.3 1994.0,1509.3 1995.9,1509.3 1997.8,1509.3 1999.7,1509.3 2001.6,1509.3 2003.6,1509.3 2005.5,1509.4 2007.4,1509.4 2009.3,1509.4 2011.2,1509.4 2013.2,1509.4 2015.1,1509.4 2017.1,1509.4 2019.0,1509.4 2020.9,1509.4 2022.9,1509.4 2024.9,1509.4 2026.8,1509.4 2028.8,1509.4 2030.7,1509.4 2032.7,1509.4 2034.7,1509.4 2036.7,1509.4 2038.7,1509.4 2040.7,1509.4 2042.6,1509.4 2044.6,1509.4 2046.6,1509.4 2048.7,1509.4 2050.7,1509.4 2052.7,1509.4 2054.7,1509.4 2056.7,1509.4 2058.7,1509.4 2060.8,1509.4 2062.8,1509.4 2064.8,1509.4 2066.9,1509.4 2068.9,1509.4 2071.0,1509.4 2073.1,1509.4 2075.1,1509.4 2077.2,1509.4 2079.2,1509.4 2081.3,1509.4 2083.4,1509.4 2085.5,1509.4 2087.6,1509.4 2089.7,1509.4 2091.8,1509.4 2093.9,1509.4 2096.0,1509.4 2098.1,1509.4 2100.2,1509.5 2102.3,1509.5 2104.4,1509.5 2106.6,1509.5 2108.7,1509.5 2110.8,1509.5 2113.0,1509.5 2115.1,1509.5 2117.3,1509.5 2119.4,1509.5 2121.6,1509.5 2123.8,1509.5 2125.9,1509.5 2128.1,1509.5 2130.3,1509.5 2132.5,1509.5 2134.7,1509.5 2136.9,1509.5 2139.1,1509.5 2141.3,1509.5 2143.5,1509.5 2145.7,1509.5 2147.9,1509.5 2150.1,1509.5 2152.4,1509.5 2154.6,1509.5 2156.8,1509.5 2159.1,1509.5 2161.3,1509.5 2163.6,1509.5 2165.8,1509.5 2168.1,1509.5 2170.4,1509.5 2172.6,1509.5 2174.9,1509.5 2177.2,1509.5 2179.5,1509.5 2181.8,1509.5 2184.1,1509.5 2186.4,1509.5 2188.7,1509.5 2191.0,1509.5 2193.3,1509.5 2195.7,1509.5 2198.0,1509.5 2200.3,1509.5 2202.7,1509.5 2205.0,1509.5 2207.4,1509.5 2209.7,1509.5 2212.1,1509.5 2214.5,1509.5 2216.8,1509.5 2219.2,1509.5 2221.6,1509.5"/>
</g>
<line x1="1065.0" y1="60" x2="1065.0" y2="1521" stroke="#555" stroke-opacity="0.5" stroke-width="4" stroke-dasharray="3 2.4"/>
<line x1="2098.7" y1="60" x2="2098.7" y2="1521" stroke="#555" stroke-opacity="0.5" stroke-width="4" stroke-dasharray="3 2.4"/>
<rect x="1064.5" y="201" width="1036.3" height="58" fill="url(#spec)"/>
<text class="b" x="1288" y="347">Visible light</text>
<line x1="1490" y1="713.0" x2="1706" y2="713.0" stroke="#0000ff" stroke-width="3.4" stroke-opacity="0.8"/>
<circle cx="1598.0" cy="713.0" r="4.6" fill="#0000ff"/>
<text class="lg" x="1729" y="745.7">Blue P</text>
<line x1="1490" y1="830.3" x2="1706" y2="830.3" stroke="#ff0000" stroke-width="3.4" stroke-opacity="0.8"/>
<circle cx="1598.0" cy="830.3" r="4.6" fill="#ff0000"/>
<text class="lg" x="1729" y="862.5">SiS</text>
<line x1="1490" y1="946.5" x2="1706" y2="946.5" stroke="#ff00ff" stroke-width="3.4" stroke-opacity="0.8"/>
<path d="M1598.0 940.5 l5.5 9.5 h-11 Z" fill="#ff00ff"/>
<text class="lg" x="1729" y="980.0">Si-P-2</text>
<line x1="1490" y1="1064.5" x2="1706" y2="1064.5" stroke="#808000" stroke-width="3.4" stroke-opacity="0.8"/>
<path d="M1598.0 1070.5 l5.5 -9.5 h-11 Z" fill="#808000"/>
<text class="lg" x="1729" y="1097.0">P-S-4</text>
</svg></body></html>
